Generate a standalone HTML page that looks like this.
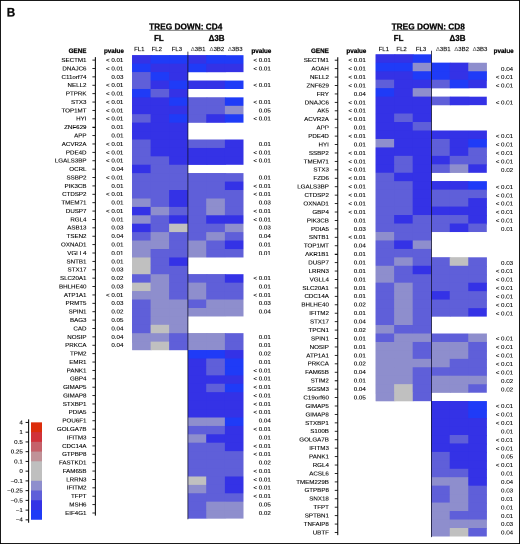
<!DOCTYPE html>
<html><head><meta charset="utf-8"><title>Treg down heatmap</title>
<style>html,body{margin:0;padding:0;background:#fff}body{width:520px;height:544px;overflow:hidden;position:relative}#wrap{position:relative;width:520px;height:544px;overflow:hidden}#fig{position:absolute;left:0;top:0;width:1040px;height:1088px;transform:scale(0.5);transform-origin:0 0;will-change:transform}svg{display:block}text{font-family:"Liberation Sans",Arial,Helvetica,sans-serif;fill:#0a0a0a;stroke:#0a0a0a;stroke-width:.14px}text.b{font-weight:bold;stroke-width:.28px}tspan.d{fill:#555;stroke:none}</style></head>
<body>
<div id="wrap">
<div id="fig">
<svg width="1040" height="1088" viewBox="0 0 520 544">
<rect width="520" height="544" fill="#fff"/>
<rect x="132.20" y="55.30" width="19.70" height="8.42" fill="#3432e6"/>
<rect x="132.20" y="55.30" width="18.50" height="9.62" fill="#3432e6"/>
<rect x="132.20" y="55.30" width="19.70" height="9.62" fill="#3432e6"/>
<rect x="150.70" y="55.30" width="19.70" height="8.42" fill="#1f3bf7"/>
<rect x="150.70" y="55.30" width="18.50" height="9.62" fill="#1f3bf7"/>
<rect x="150.70" y="55.30" width="19.70" height="9.62" fill="#1f3bf7"/>
<rect x="169.20" y="55.30" width="19.70" height="8.42" fill="#1f3bf7"/>
<rect x="169.20" y="55.30" width="18.50" height="9.62" fill="#1f3bf7"/>
<rect x="169.20" y="55.30" width="19.70" height="9.62" fill="#1f3bf7"/>
<rect x="187.70" y="55.30" width="19.80" height="8.42" fill="#3432e6"/>
<rect x="187.70" y="55.30" width="18.60" height="9.62" fill="#3432e6"/>
<rect x="187.70" y="55.30" width="19.80" height="9.62" fill="#3432e6"/>
<rect x="206.30" y="55.30" width="19.80" height="8.42" fill="#1f3bf7"/>
<rect x="206.30" y="55.30" width="18.60" height="9.62" fill="#1f3bf7"/>
<rect x="206.30" y="55.30" width="19.80" height="9.62" fill="#1f3bf7"/>
<rect x="224.90" y="55.30" width="18.60" height="9.62" fill="#1f3bf7"/>
<rect x="132.20" y="63.72" width="19.70" height="8.42" fill="#1f3bf7"/>
<rect x="132.20" y="63.72" width="18.50" height="9.62" fill="#1f3bf7"/>
<rect x="132.20" y="63.72" width="19.70" height="9.62" fill="#1f3bf7"/>
<rect x="150.70" y="63.72" width="19.70" height="8.42" fill="#3432e6"/>
<rect x="150.70" y="63.72" width="18.50" height="9.62" fill="#3432e6"/>
<rect x="150.70" y="63.72" width="19.70" height="9.62" fill="#3432e6"/>
<rect x="169.20" y="63.72" width="19.70" height="8.42" fill="#3432e6"/>
<rect x="169.20" y="63.72" width="18.50" height="9.62" fill="#3432e6"/>
<rect x="187.70" y="63.72" width="19.80" height="8.42" fill="#1f3bf7"/>
<rect x="206.30" y="63.72" width="19.80" height="8.42" fill="#3432e6"/>
<rect x="132.20" y="72.15" width="19.70" height="8.42" fill="#5f5fd9"/>
<rect x="132.20" y="72.15" width="18.50" height="9.62" fill="#5f5fd9"/>
<rect x="132.20" y="72.15" width="19.70" height="9.62" fill="#5f5fd9"/>
<rect x="150.70" y="72.15" width="19.70" height="8.42" fill="#1f3bf7"/>
<rect x="150.70" y="72.15" width="18.50" height="9.62" fill="#1f3bf7"/>
<rect x="150.70" y="72.15" width="19.70" height="9.62" fill="#1f3bf7"/>
<rect x="169.20" y="72.15" width="18.50" height="9.62" fill="#3432e6"/>
<rect x="132.20" y="80.57" width="19.70" height="8.42" fill="#5f5fd9"/>
<rect x="132.20" y="80.57" width="18.50" height="9.62" fill="#5f5fd9"/>
<rect x="132.20" y="80.57" width="19.70" height="9.62" fill="#5f5fd9"/>
<rect x="150.70" y="80.57" width="19.70" height="8.42" fill="#3432e6"/>
<rect x="150.70" y="80.57" width="18.50" height="9.62" fill="#3432e6"/>
<rect x="150.70" y="80.57" width="19.70" height="9.62" fill="#3432e6"/>
<rect x="169.20" y="80.57" width="19.70" height="8.42" fill="#1f3bf7"/>
<rect x="169.20" y="80.57" width="18.50" height="9.62" fill="#1f3bf7"/>
<rect x="187.70" y="80.57" width="19.80" height="8.42" fill="#3432e6"/>
<rect x="206.30" y="80.57" width="19.80" height="8.42" fill="#3432e6"/>
<rect x="132.20" y="88.99" width="19.70" height="8.42" fill="#1f3bf7"/>
<rect x="132.20" y="88.99" width="18.50" height="9.62" fill="#1f3bf7"/>
<rect x="132.20" y="88.99" width="19.70" height="9.62" fill="#1f3bf7"/>
<rect x="150.70" y="88.99" width="19.70" height="8.42" fill="#5f5fd9"/>
<rect x="150.70" y="88.99" width="18.50" height="9.62" fill="#5f5fd9"/>
<rect x="150.70" y="88.99" width="19.70" height="9.62" fill="#5f5fd9"/>
<rect x="169.20" y="88.99" width="18.50" height="9.62" fill="#3432e6"/>
<rect x="132.20" y="97.42" width="19.70" height="8.42" fill="#3432e6"/>
<rect x="132.20" y="97.42" width="18.50" height="9.62" fill="#3432e6"/>
<rect x="132.20" y="97.42" width="19.70" height="9.62" fill="#3432e6"/>
<rect x="150.70" y="97.42" width="19.70" height="8.42" fill="#3432e6"/>
<rect x="150.70" y="97.42" width="18.50" height="9.62" fill="#3432e6"/>
<rect x="150.70" y="97.42" width="19.70" height="9.62" fill="#3432e6"/>
<rect x="169.20" y="97.42" width="19.70" height="8.42" fill="#1f3bf7"/>
<rect x="169.20" y="97.42" width="18.50" height="9.62" fill="#1f3bf7"/>
<rect x="169.20" y="97.42" width="19.70" height="9.62" fill="#1f3bf7"/>
<rect x="187.70" y="97.42" width="19.80" height="8.42" fill="#5f5fd9"/>
<rect x="187.70" y="97.42" width="18.60" height="9.62" fill="#5f5fd9"/>
<rect x="187.70" y="97.42" width="19.80" height="9.62" fill="#5f5fd9"/>
<rect x="206.30" y="97.42" width="19.80" height="8.42" fill="#5f5fd9"/>
<rect x="206.30" y="97.42" width="18.60" height="9.62" fill="#5f5fd9"/>
<rect x="206.30" y="97.42" width="19.80" height="9.62" fill="#5f5fd9"/>
<rect x="224.90" y="97.42" width="18.60" height="9.62" fill="#1f3bf7"/>
<rect x="132.20" y="105.84" width="19.70" height="8.42" fill="#3432e6"/>
<rect x="132.20" y="105.84" width="18.50" height="9.62" fill="#3432e6"/>
<rect x="132.20" y="105.84" width="19.70" height="9.62" fill="#3432e6"/>
<rect x="150.70" y="105.84" width="19.70" height="8.42" fill="#3432e6"/>
<rect x="150.70" y="105.84" width="18.50" height="9.62" fill="#3432e6"/>
<rect x="150.70" y="105.84" width="19.70" height="9.62" fill="#3432e6"/>
<rect x="169.20" y="105.84" width="19.70" height="8.42" fill="#3432e6"/>
<rect x="169.20" y="105.84" width="18.50" height="9.62" fill="#3432e6"/>
<rect x="169.20" y="105.84" width="19.70" height="9.62" fill="#3432e6"/>
<rect x="187.70" y="105.84" width="19.80" height="8.42" fill="#5f5fd9"/>
<rect x="187.70" y="105.84" width="18.60" height="9.62" fill="#5f5fd9"/>
<rect x="187.70" y="105.84" width="19.80" height="9.62" fill="#5f5fd9"/>
<rect x="206.30" y="105.84" width="19.80" height="8.42" fill="#5f5fd9"/>
<rect x="206.30" y="105.84" width="18.60" height="9.62" fill="#5f5fd9"/>
<rect x="206.30" y="105.84" width="19.80" height="9.62" fill="#5f5fd9"/>
<rect x="224.90" y="105.84" width="18.60" height="9.62" fill="#8e8ecd"/>
<rect x="132.20" y="114.27" width="19.70" height="8.42" fill="#5f5fd9"/>
<rect x="132.20" y="114.27" width="18.50" height="9.62" fill="#5f5fd9"/>
<rect x="132.20" y="114.27" width="19.70" height="9.62" fill="#5f5fd9"/>
<rect x="150.70" y="114.27" width="19.70" height="8.42" fill="#3432e6"/>
<rect x="150.70" y="114.27" width="18.50" height="9.62" fill="#3432e6"/>
<rect x="150.70" y="114.27" width="19.70" height="9.62" fill="#3432e6"/>
<rect x="169.20" y="114.27" width="19.70" height="8.42" fill="#1f3bf7"/>
<rect x="169.20" y="114.27" width="18.50" height="9.62" fill="#1f3bf7"/>
<rect x="187.70" y="114.27" width="19.80" height="8.42" fill="#5f5fd9"/>
<rect x="206.30" y="114.27" width="19.80" height="8.42" fill="#3432e6"/>
<rect x="132.20" y="122.69" width="19.70" height="8.42" fill="#3432e6"/>
<rect x="132.20" y="122.69" width="18.50" height="9.62" fill="#3432e6"/>
<rect x="132.20" y="122.69" width="19.70" height="9.62" fill="#3432e6"/>
<rect x="150.70" y="122.69" width="19.70" height="8.42" fill="#3432e6"/>
<rect x="150.70" y="122.69" width="18.50" height="9.62" fill="#3432e6"/>
<rect x="150.70" y="122.69" width="19.70" height="9.62" fill="#3432e6"/>
<rect x="169.20" y="122.69" width="18.50" height="9.62" fill="#3432e6"/>
<rect x="132.20" y="131.11" width="19.70" height="8.42" fill="#3432e6"/>
<rect x="132.20" y="131.11" width="18.50" height="9.62" fill="#3432e6"/>
<rect x="132.20" y="131.11" width="19.70" height="9.62" fill="#3432e6"/>
<rect x="150.70" y="131.11" width="19.70" height="8.42" fill="#3432e6"/>
<rect x="150.70" y="131.11" width="18.50" height="9.62" fill="#3432e6"/>
<rect x="150.70" y="131.11" width="19.70" height="9.62" fill="#3432e6"/>
<rect x="169.20" y="131.11" width="18.50" height="9.62" fill="#3432e6"/>
<rect x="132.20" y="139.54" width="19.70" height="8.42" fill="#5f5fd9"/>
<rect x="132.20" y="139.54" width="18.50" height="9.62" fill="#5f5fd9"/>
<rect x="132.20" y="139.54" width="19.70" height="9.62" fill="#5f5fd9"/>
<rect x="150.70" y="139.54" width="19.70" height="8.42" fill="#3432e6"/>
<rect x="150.70" y="139.54" width="18.50" height="9.62" fill="#3432e6"/>
<rect x="150.70" y="139.54" width="19.70" height="9.62" fill="#3432e6"/>
<rect x="169.20" y="139.54" width="19.70" height="8.42" fill="#3432e6"/>
<rect x="169.20" y="139.54" width="18.50" height="9.62" fill="#3432e6"/>
<rect x="169.20" y="139.54" width="19.70" height="9.62" fill="#3432e6"/>
<rect x="187.70" y="139.54" width="19.80" height="8.42" fill="#5f5fd9"/>
<rect x="187.70" y="139.54" width="18.60" height="9.62" fill="#5f5fd9"/>
<rect x="187.70" y="139.54" width="19.80" height="9.62" fill="#5f5fd9"/>
<rect x="206.30" y="139.54" width="19.80" height="8.42" fill="#5f5fd9"/>
<rect x="206.30" y="139.54" width="18.60" height="9.62" fill="#5f5fd9"/>
<rect x="206.30" y="139.54" width="19.80" height="9.62" fill="#5f5fd9"/>
<rect x="224.90" y="139.54" width="18.60" height="9.62" fill="#3432e6"/>
<rect x="132.20" y="147.96" width="19.70" height="8.42" fill="#5f5fd9"/>
<rect x="132.20" y="147.96" width="18.50" height="9.62" fill="#5f5fd9"/>
<rect x="132.20" y="147.96" width="19.70" height="9.62" fill="#5f5fd9"/>
<rect x="150.70" y="147.96" width="19.70" height="8.42" fill="#3432e6"/>
<rect x="150.70" y="147.96" width="18.50" height="9.62" fill="#3432e6"/>
<rect x="150.70" y="147.96" width="19.70" height="9.62" fill="#3432e6"/>
<rect x="169.20" y="147.96" width="19.70" height="8.42" fill="#3432e6"/>
<rect x="169.20" y="147.96" width="18.50" height="9.62" fill="#3432e6"/>
<rect x="169.20" y="147.96" width="19.70" height="9.62" fill="#3432e6"/>
<rect x="187.70" y="147.96" width="19.80" height="8.42" fill="#3432e6"/>
<rect x="187.70" y="147.96" width="18.60" height="9.62" fill="#3432e6"/>
<rect x="187.70" y="147.96" width="19.80" height="9.62" fill="#3432e6"/>
<rect x="206.30" y="147.96" width="19.80" height="8.42" fill="#3432e6"/>
<rect x="206.30" y="147.96" width="18.60" height="9.62" fill="#3432e6"/>
<rect x="206.30" y="147.96" width="19.80" height="9.62" fill="#3432e6"/>
<rect x="224.90" y="147.96" width="18.60" height="9.62" fill="#3432e6"/>
<rect x="132.20" y="156.38" width="19.70" height="8.42" fill="#5f5fd9"/>
<rect x="132.20" y="156.38" width="18.50" height="9.62" fill="#5f5fd9"/>
<rect x="132.20" y="156.38" width="19.70" height="9.62" fill="#5f5fd9"/>
<rect x="150.70" y="156.38" width="19.70" height="8.42" fill="#5f5fd9"/>
<rect x="150.70" y="156.38" width="18.50" height="9.62" fill="#5f5fd9"/>
<rect x="150.70" y="156.38" width="19.70" height="9.62" fill="#5f5fd9"/>
<rect x="169.20" y="156.38" width="19.70" height="8.42" fill="#3432e6"/>
<rect x="169.20" y="156.38" width="18.50" height="9.62" fill="#3432e6"/>
<rect x="187.70" y="156.38" width="19.80" height="8.42" fill="#3432e6"/>
<rect x="206.30" y="156.38" width="19.80" height="8.42" fill="#3432e6"/>
<rect x="132.20" y="164.81" width="19.70" height="8.42" fill="#3432e6"/>
<rect x="132.20" y="164.81" width="18.50" height="9.62" fill="#3432e6"/>
<rect x="132.20" y="164.81" width="19.70" height="9.62" fill="#3432e6"/>
<rect x="150.70" y="164.81" width="19.70" height="8.42" fill="#5f5fd9"/>
<rect x="150.70" y="164.81" width="18.50" height="9.62" fill="#5f5fd9"/>
<rect x="150.70" y="164.81" width="19.70" height="9.62" fill="#5f5fd9"/>
<rect x="169.20" y="164.81" width="18.50" height="9.62" fill="#5f5fd9"/>
<rect x="132.20" y="173.23" width="19.70" height="8.42" fill="#5f5fd9"/>
<rect x="132.20" y="173.23" width="18.50" height="9.62" fill="#5f5fd9"/>
<rect x="132.20" y="173.23" width="19.70" height="9.62" fill="#5f5fd9"/>
<rect x="150.70" y="173.23" width="19.70" height="8.42" fill="#5f5fd9"/>
<rect x="150.70" y="173.23" width="18.50" height="9.62" fill="#5f5fd9"/>
<rect x="150.70" y="173.23" width="19.70" height="9.62" fill="#5f5fd9"/>
<rect x="169.20" y="173.23" width="19.70" height="8.42" fill="#5f5fd9"/>
<rect x="169.20" y="173.23" width="18.50" height="9.62" fill="#5f5fd9"/>
<rect x="169.20" y="173.23" width="19.70" height="9.62" fill="#5f5fd9"/>
<rect x="187.70" y="173.23" width="19.80" height="8.42" fill="#5f5fd9"/>
<rect x="187.70" y="173.23" width="18.60" height="9.62" fill="#5f5fd9"/>
<rect x="187.70" y="173.23" width="19.80" height="9.62" fill="#5f5fd9"/>
<rect x="206.30" y="173.23" width="19.80" height="8.42" fill="#5f5fd9"/>
<rect x="206.30" y="173.23" width="18.60" height="9.62" fill="#5f5fd9"/>
<rect x="206.30" y="173.23" width="19.80" height="9.62" fill="#5f5fd9"/>
<rect x="224.90" y="173.23" width="18.60" height="9.62" fill="#5f5fd9"/>
<rect x="132.20" y="181.65" width="19.70" height="8.42" fill="#5f5fd9"/>
<rect x="132.20" y="181.65" width="18.50" height="9.62" fill="#5f5fd9"/>
<rect x="132.20" y="181.65" width="19.70" height="9.62" fill="#5f5fd9"/>
<rect x="150.70" y="181.65" width="19.70" height="8.42" fill="#5f5fd9"/>
<rect x="150.70" y="181.65" width="18.50" height="9.62" fill="#5f5fd9"/>
<rect x="150.70" y="181.65" width="19.70" height="9.62" fill="#5f5fd9"/>
<rect x="169.20" y="181.65" width="19.70" height="8.42" fill="#5f5fd9"/>
<rect x="169.20" y="181.65" width="18.50" height="9.62" fill="#5f5fd9"/>
<rect x="169.20" y="181.65" width="19.70" height="9.62" fill="#5f5fd9"/>
<rect x="187.70" y="181.65" width="19.80" height="8.42" fill="#5f5fd9"/>
<rect x="187.70" y="181.65" width="18.60" height="9.62" fill="#5f5fd9"/>
<rect x="187.70" y="181.65" width="19.80" height="9.62" fill="#5f5fd9"/>
<rect x="206.30" y="181.65" width="19.80" height="8.42" fill="#5f5fd9"/>
<rect x="206.30" y="181.65" width="18.60" height="9.62" fill="#5f5fd9"/>
<rect x="206.30" y="181.65" width="19.80" height="9.62" fill="#5f5fd9"/>
<rect x="224.90" y="181.65" width="18.60" height="9.62" fill="#3432e6"/>
<rect x="132.20" y="190.08" width="19.70" height="8.42" fill="#5f5fd9"/>
<rect x="132.20" y="190.08" width="18.50" height="9.62" fill="#5f5fd9"/>
<rect x="132.20" y="190.08" width="19.70" height="9.62" fill="#5f5fd9"/>
<rect x="150.70" y="190.08" width="19.70" height="8.42" fill="#5f5fd9"/>
<rect x="150.70" y="190.08" width="18.50" height="9.62" fill="#5f5fd9"/>
<rect x="150.70" y="190.08" width="19.70" height="9.62" fill="#5f5fd9"/>
<rect x="169.20" y="190.08" width="19.70" height="8.42" fill="#3432e6"/>
<rect x="169.20" y="190.08" width="18.50" height="9.62" fill="#3432e6"/>
<rect x="169.20" y="190.08" width="19.70" height="9.62" fill="#3432e6"/>
<rect x="187.70" y="190.08" width="19.80" height="8.42" fill="#5f5fd9"/>
<rect x="187.70" y="190.08" width="18.60" height="9.62" fill="#5f5fd9"/>
<rect x="187.70" y="190.08" width="19.80" height="9.62" fill="#5f5fd9"/>
<rect x="206.30" y="190.08" width="19.80" height="8.42" fill="#5f5fd9"/>
<rect x="206.30" y="190.08" width="18.60" height="9.62" fill="#5f5fd9"/>
<rect x="206.30" y="190.08" width="19.80" height="9.62" fill="#5f5fd9"/>
<rect x="224.90" y="190.08" width="18.60" height="9.62" fill="#5f5fd9"/>
<rect x="132.20" y="198.50" width="19.70" height="8.42" fill="#8e8ecd"/>
<rect x="132.20" y="198.50" width="18.50" height="9.62" fill="#8e8ecd"/>
<rect x="132.20" y="198.50" width="19.70" height="9.62" fill="#8e8ecd"/>
<rect x="150.70" y="198.50" width="19.70" height="8.42" fill="#5f5fd9"/>
<rect x="150.70" y="198.50" width="18.50" height="9.62" fill="#5f5fd9"/>
<rect x="150.70" y="198.50" width="19.70" height="9.62" fill="#5f5fd9"/>
<rect x="169.20" y="198.50" width="19.70" height="8.42" fill="#3432e6"/>
<rect x="169.20" y="198.50" width="18.50" height="9.62" fill="#3432e6"/>
<rect x="169.20" y="198.50" width="19.70" height="9.62" fill="#3432e6"/>
<rect x="187.70" y="198.50" width="19.80" height="8.42" fill="#5f5fd9"/>
<rect x="187.70" y="198.50" width="18.60" height="9.62" fill="#5f5fd9"/>
<rect x="187.70" y="198.50" width="19.80" height="9.62" fill="#5f5fd9"/>
<rect x="206.30" y="198.50" width="19.80" height="8.42" fill="#8e8ecd"/>
<rect x="206.30" y="198.50" width="18.60" height="9.62" fill="#8e8ecd"/>
<rect x="206.30" y="198.50" width="19.80" height="9.62" fill="#8e8ecd"/>
<rect x="224.90" y="198.50" width="18.60" height="9.62" fill="#5f5fd9"/>
<rect x="132.20" y="206.93" width="19.70" height="8.42" fill="#3432e6"/>
<rect x="132.20" y="206.93" width="18.50" height="9.62" fill="#3432e6"/>
<rect x="132.20" y="206.93" width="19.70" height="9.62" fill="#3432e6"/>
<rect x="150.70" y="206.93" width="19.70" height="8.42" fill="#8e8ecd"/>
<rect x="150.70" y="206.93" width="18.50" height="9.62" fill="#8e8ecd"/>
<rect x="150.70" y="206.93" width="19.70" height="9.62" fill="#8e8ecd"/>
<rect x="169.20" y="206.93" width="19.70" height="8.42" fill="#5f5fd9"/>
<rect x="169.20" y="206.93" width="18.50" height="9.62" fill="#5f5fd9"/>
<rect x="169.20" y="206.93" width="19.70" height="9.62" fill="#5f5fd9"/>
<rect x="187.70" y="206.93" width="19.80" height="8.42" fill="#5f5fd9"/>
<rect x="187.70" y="206.93" width="18.60" height="9.62" fill="#5f5fd9"/>
<rect x="187.70" y="206.93" width="19.80" height="9.62" fill="#5f5fd9"/>
<rect x="206.30" y="206.93" width="19.80" height="8.42" fill="#8e8ecd"/>
<rect x="206.30" y="206.93" width="18.60" height="9.62" fill="#8e8ecd"/>
<rect x="206.30" y="206.93" width="19.80" height="9.62" fill="#8e8ecd"/>
<rect x="224.90" y="206.93" width="18.60" height="9.62" fill="#5f5fd9"/>
<rect x="132.20" y="215.35" width="19.70" height="8.42" fill="#8e8ecd"/>
<rect x="132.20" y="215.35" width="18.50" height="9.62" fill="#8e8ecd"/>
<rect x="132.20" y="215.35" width="19.70" height="9.62" fill="#8e8ecd"/>
<rect x="150.70" y="215.35" width="19.70" height="8.42" fill="#5f5fd9"/>
<rect x="150.70" y="215.35" width="18.50" height="9.62" fill="#5f5fd9"/>
<rect x="150.70" y="215.35" width="19.70" height="9.62" fill="#5f5fd9"/>
<rect x="169.20" y="215.35" width="19.70" height="8.42" fill="#3432e6"/>
<rect x="169.20" y="215.35" width="18.50" height="9.62" fill="#3432e6"/>
<rect x="169.20" y="215.35" width="19.70" height="9.62" fill="#3432e6"/>
<rect x="187.70" y="215.35" width="19.80" height="8.42" fill="#5f5fd9"/>
<rect x="187.70" y="215.35" width="18.60" height="9.62" fill="#5f5fd9"/>
<rect x="187.70" y="215.35" width="19.80" height="9.62" fill="#5f5fd9"/>
<rect x="206.30" y="215.35" width="19.80" height="8.42" fill="#3432e6"/>
<rect x="206.30" y="215.35" width="18.60" height="9.62" fill="#3432e6"/>
<rect x="206.30" y="215.35" width="19.80" height="9.62" fill="#3432e6"/>
<rect x="224.90" y="215.35" width="18.60" height="9.62" fill="#3432e6"/>
<rect x="132.20" y="223.77" width="19.70" height="8.42" fill="#3432e6"/>
<rect x="132.20" y="223.77" width="18.50" height="9.62" fill="#3432e6"/>
<rect x="132.20" y="223.77" width="19.70" height="9.62" fill="#3432e6"/>
<rect x="150.70" y="223.77" width="19.70" height="8.42" fill="#5f5fd9"/>
<rect x="150.70" y="223.77" width="18.50" height="9.62" fill="#5f5fd9"/>
<rect x="150.70" y="223.77" width="19.70" height="9.62" fill="#5f5fd9"/>
<rect x="169.20" y="223.77" width="19.70" height="8.42" fill="#c0c0c0"/>
<rect x="169.20" y="223.77" width="18.50" height="9.62" fill="#c0c0c0"/>
<rect x="169.20" y="223.77" width="19.70" height="9.62" fill="#c0c0c0"/>
<rect x="187.70" y="223.77" width="19.80" height="8.42" fill="#5f5fd9"/>
<rect x="187.70" y="223.77" width="18.60" height="9.62" fill="#5f5fd9"/>
<rect x="187.70" y="223.77" width="19.80" height="9.62" fill="#5f5fd9"/>
<rect x="206.30" y="223.77" width="19.80" height="8.42" fill="#5f5fd9"/>
<rect x="206.30" y="223.77" width="18.60" height="9.62" fill="#5f5fd9"/>
<rect x="206.30" y="223.77" width="19.80" height="9.62" fill="#5f5fd9"/>
<rect x="224.90" y="223.77" width="18.60" height="9.62" fill="#8e8ecd"/>
<rect x="132.20" y="232.20" width="19.70" height="8.42" fill="#5f5fd9"/>
<rect x="132.20" y="232.20" width="18.50" height="9.62" fill="#5f5fd9"/>
<rect x="132.20" y="232.20" width="19.70" height="9.62" fill="#5f5fd9"/>
<rect x="150.70" y="232.20" width="19.70" height="8.42" fill="#8e8ecd"/>
<rect x="150.70" y="232.20" width="18.50" height="9.62" fill="#8e8ecd"/>
<rect x="150.70" y="232.20" width="19.70" height="9.62" fill="#8e8ecd"/>
<rect x="169.20" y="232.20" width="19.70" height="8.42" fill="#5f5fd9"/>
<rect x="169.20" y="232.20" width="18.50" height="9.62" fill="#5f5fd9"/>
<rect x="169.20" y="232.20" width="19.70" height="9.62" fill="#5f5fd9"/>
<rect x="187.70" y="232.20" width="19.80" height="8.42" fill="#5f5fd9"/>
<rect x="187.70" y="232.20" width="18.60" height="9.62" fill="#5f5fd9"/>
<rect x="187.70" y="232.20" width="19.80" height="9.62" fill="#5f5fd9"/>
<rect x="206.30" y="232.20" width="19.80" height="8.42" fill="#8e8ecd"/>
<rect x="206.30" y="232.20" width="18.60" height="9.62" fill="#8e8ecd"/>
<rect x="206.30" y="232.20" width="19.80" height="9.62" fill="#8e8ecd"/>
<rect x="224.90" y="232.20" width="18.60" height="9.62" fill="#5f5fd9"/>
<rect x="132.20" y="240.62" width="19.70" height="8.42" fill="#8e8ecd"/>
<rect x="132.20" y="240.62" width="18.50" height="9.62" fill="#8e8ecd"/>
<rect x="132.20" y="240.62" width="19.70" height="9.62" fill="#8e8ecd"/>
<rect x="150.70" y="240.62" width="19.70" height="8.42" fill="#8e8ecd"/>
<rect x="150.70" y="240.62" width="18.50" height="9.62" fill="#8e8ecd"/>
<rect x="150.70" y="240.62" width="19.70" height="9.62" fill="#8e8ecd"/>
<rect x="169.20" y="240.62" width="19.70" height="8.42" fill="#5f5fd9"/>
<rect x="169.20" y="240.62" width="18.50" height="9.62" fill="#5f5fd9"/>
<rect x="169.20" y="240.62" width="19.70" height="9.62" fill="#5f5fd9"/>
<rect x="187.70" y="240.62" width="19.80" height="8.42" fill="#8e8ecd"/>
<rect x="187.70" y="240.62" width="18.60" height="9.62" fill="#8e8ecd"/>
<rect x="187.70" y="240.62" width="19.80" height="9.62" fill="#8e8ecd"/>
<rect x="206.30" y="240.62" width="19.80" height="8.42" fill="#5f5fd9"/>
<rect x="206.30" y="240.62" width="18.60" height="9.62" fill="#5f5fd9"/>
<rect x="206.30" y="240.62" width="19.80" height="9.62" fill="#5f5fd9"/>
<rect x="224.90" y="240.62" width="18.60" height="9.62" fill="#3432e6"/>
<rect x="132.20" y="249.04" width="19.70" height="8.42" fill="#8e8ecd"/>
<rect x="132.20" y="249.04" width="18.50" height="9.62" fill="#8e8ecd"/>
<rect x="132.20" y="249.04" width="19.70" height="9.62" fill="#8e8ecd"/>
<rect x="150.70" y="249.04" width="19.70" height="8.42" fill="#5f5fd9"/>
<rect x="150.70" y="249.04" width="18.50" height="9.62" fill="#5f5fd9"/>
<rect x="150.70" y="249.04" width="19.70" height="9.62" fill="#5f5fd9"/>
<rect x="169.20" y="249.04" width="19.70" height="8.42" fill="#5f5fd9"/>
<rect x="169.20" y="249.04" width="18.50" height="9.62" fill="#5f5fd9"/>
<rect x="187.70" y="249.04" width="19.80" height="8.42" fill="#8e8ecd"/>
<rect x="206.30" y="249.04" width="19.80" height="8.42" fill="#5f5fd9"/>
<rect x="132.20" y="257.47" width="19.70" height="8.42" fill="#c0c0c0"/>
<rect x="132.20" y="257.47" width="18.50" height="9.62" fill="#c0c0c0"/>
<rect x="132.20" y="257.47" width="19.70" height="9.62" fill="#c0c0c0"/>
<rect x="150.70" y="257.47" width="19.70" height="8.42" fill="#5f5fd9"/>
<rect x="150.70" y="257.47" width="18.50" height="9.62" fill="#5f5fd9"/>
<rect x="150.70" y="257.47" width="19.70" height="9.62" fill="#5f5fd9"/>
<rect x="169.20" y="257.47" width="18.50" height="9.62" fill="#3432e6"/>
<rect x="132.20" y="265.89" width="19.70" height="8.42" fill="#c0c0c0"/>
<rect x="132.20" y="265.89" width="18.50" height="9.62" fill="#c0c0c0"/>
<rect x="132.20" y="265.89" width="19.70" height="9.62" fill="#c0c0c0"/>
<rect x="150.70" y="265.89" width="19.70" height="8.42" fill="#5f5fd9"/>
<rect x="150.70" y="265.89" width="18.50" height="9.62" fill="#5f5fd9"/>
<rect x="150.70" y="265.89" width="19.70" height="9.62" fill="#5f5fd9"/>
<rect x="169.20" y="265.89" width="18.50" height="9.62" fill="#5f5fd9"/>
<rect x="132.20" y="274.31" width="19.70" height="8.42" fill="#5f5fd9"/>
<rect x="132.20" y="274.31" width="18.50" height="9.62" fill="#5f5fd9"/>
<rect x="132.20" y="274.31" width="19.70" height="9.62" fill="#5f5fd9"/>
<rect x="150.70" y="274.31" width="19.70" height="8.42" fill="#8e8ecd"/>
<rect x="150.70" y="274.31" width="18.50" height="9.62" fill="#8e8ecd"/>
<rect x="150.70" y="274.31" width="19.70" height="9.62" fill="#8e8ecd"/>
<rect x="169.20" y="274.31" width="19.70" height="8.42" fill="#5f5fd9"/>
<rect x="169.20" y="274.31" width="18.50" height="9.62" fill="#5f5fd9"/>
<rect x="169.20" y="274.31" width="19.70" height="9.62" fill="#5f5fd9"/>
<rect x="187.70" y="274.31" width="19.80" height="8.42" fill="#5f5fd9"/>
<rect x="187.70" y="274.31" width="18.60" height="9.62" fill="#5f5fd9"/>
<rect x="187.70" y="274.31" width="19.80" height="9.62" fill="#5f5fd9"/>
<rect x="206.30" y="274.31" width="19.80" height="8.42" fill="#5f5fd9"/>
<rect x="206.30" y="274.31" width="18.60" height="9.62" fill="#5f5fd9"/>
<rect x="206.30" y="274.31" width="19.80" height="9.62" fill="#5f5fd9"/>
<rect x="224.90" y="274.31" width="18.60" height="9.62" fill="#3432e6"/>
<rect x="132.20" y="282.74" width="19.70" height="8.42" fill="#c0c0c0"/>
<rect x="132.20" y="282.74" width="18.50" height="9.62" fill="#c0c0c0"/>
<rect x="132.20" y="282.74" width="19.70" height="9.62" fill="#c0c0c0"/>
<rect x="150.70" y="282.74" width="19.70" height="8.42" fill="#8e8ecd"/>
<rect x="150.70" y="282.74" width="18.50" height="9.62" fill="#8e8ecd"/>
<rect x="150.70" y="282.74" width="19.70" height="9.62" fill="#8e8ecd"/>
<rect x="169.20" y="282.74" width="19.70" height="8.42" fill="#5f5fd9"/>
<rect x="169.20" y="282.74" width="18.50" height="9.62" fill="#5f5fd9"/>
<rect x="169.20" y="282.74" width="19.70" height="9.62" fill="#5f5fd9"/>
<rect x="187.70" y="282.74" width="19.80" height="8.42" fill="#8e8ecd"/>
<rect x="187.70" y="282.74" width="18.60" height="9.62" fill="#8e8ecd"/>
<rect x="187.70" y="282.74" width="19.80" height="9.62" fill="#8e8ecd"/>
<rect x="206.30" y="282.74" width="19.80" height="8.42" fill="#5f5fd9"/>
<rect x="206.30" y="282.74" width="18.60" height="9.62" fill="#5f5fd9"/>
<rect x="206.30" y="282.74" width="19.80" height="9.62" fill="#5f5fd9"/>
<rect x="224.90" y="282.74" width="18.60" height="9.62" fill="#5f5fd9"/>
<rect x="132.20" y="291.16" width="19.70" height="8.42" fill="#8e8ecd"/>
<rect x="132.20" y="291.16" width="18.50" height="9.62" fill="#8e8ecd"/>
<rect x="132.20" y="291.16" width="19.70" height="9.62" fill="#8e8ecd"/>
<rect x="150.70" y="291.16" width="19.70" height="8.42" fill="#8e8ecd"/>
<rect x="150.70" y="291.16" width="18.50" height="9.62" fill="#8e8ecd"/>
<rect x="150.70" y="291.16" width="19.70" height="9.62" fill="#8e8ecd"/>
<rect x="169.20" y="291.16" width="19.70" height="8.42" fill="#5f5fd9"/>
<rect x="169.20" y="291.16" width="18.50" height="9.62" fill="#5f5fd9"/>
<rect x="169.20" y="291.16" width="19.70" height="9.62" fill="#5f5fd9"/>
<rect x="187.70" y="291.16" width="19.80" height="8.42" fill="#8e8ecd"/>
<rect x="187.70" y="291.16" width="18.60" height="9.62" fill="#8e8ecd"/>
<rect x="187.70" y="291.16" width="19.80" height="9.62" fill="#8e8ecd"/>
<rect x="206.30" y="291.16" width="19.80" height="8.42" fill="#5f5fd9"/>
<rect x="206.30" y="291.16" width="18.60" height="9.62" fill="#5f5fd9"/>
<rect x="206.30" y="291.16" width="19.80" height="9.62" fill="#5f5fd9"/>
<rect x="224.90" y="291.16" width="18.60" height="9.62" fill="#5f5fd9"/>
<rect x="132.20" y="299.59" width="19.70" height="8.42" fill="#5f5fd9"/>
<rect x="132.20" y="299.59" width="18.50" height="9.62" fill="#5f5fd9"/>
<rect x="132.20" y="299.59" width="19.70" height="9.62" fill="#5f5fd9"/>
<rect x="150.70" y="299.59" width="19.70" height="8.42" fill="#8e8ecd"/>
<rect x="150.70" y="299.59" width="18.50" height="9.62" fill="#8e8ecd"/>
<rect x="150.70" y="299.59" width="19.70" height="9.62" fill="#8e8ecd"/>
<rect x="169.20" y="299.59" width="19.70" height="8.42" fill="#8e8ecd"/>
<rect x="169.20" y="299.59" width="18.50" height="9.62" fill="#8e8ecd"/>
<rect x="169.20" y="299.59" width="19.70" height="9.62" fill="#8e8ecd"/>
<rect x="187.70" y="299.59" width="19.80" height="8.42" fill="#5f5fd9"/>
<rect x="187.70" y="299.59" width="18.60" height="9.62" fill="#5f5fd9"/>
<rect x="187.70" y="299.59" width="19.80" height="9.62" fill="#5f5fd9"/>
<rect x="206.30" y="299.59" width="19.80" height="8.42" fill="#8e8ecd"/>
<rect x="206.30" y="299.59" width="18.60" height="9.62" fill="#8e8ecd"/>
<rect x="206.30" y="299.59" width="19.80" height="9.62" fill="#8e8ecd"/>
<rect x="224.90" y="299.59" width="18.60" height="9.62" fill="#8e8ecd"/>
<rect x="132.20" y="308.01" width="19.70" height="8.42" fill="#5f5fd9"/>
<rect x="132.20" y="308.01" width="18.50" height="9.62" fill="#5f5fd9"/>
<rect x="132.20" y="308.01" width="19.70" height="9.62" fill="#5f5fd9"/>
<rect x="150.70" y="308.01" width="19.70" height="8.42" fill="#8e8ecd"/>
<rect x="150.70" y="308.01" width="18.50" height="9.62" fill="#8e8ecd"/>
<rect x="150.70" y="308.01" width="19.70" height="9.62" fill="#8e8ecd"/>
<rect x="169.20" y="308.01" width="19.70" height="8.42" fill="#8e8ecd"/>
<rect x="169.20" y="308.01" width="18.50" height="9.62" fill="#8e8ecd"/>
<rect x="187.70" y="308.01" width="19.80" height="8.42" fill="#8e8ecd"/>
<rect x="206.30" y="308.01" width="19.80" height="8.42" fill="#8e8ecd"/>
<rect x="132.20" y="316.43" width="19.70" height="8.42" fill="#5f5fd9"/>
<rect x="132.20" y="316.43" width="18.50" height="9.62" fill="#5f5fd9"/>
<rect x="132.20" y="316.43" width="19.70" height="9.62" fill="#5f5fd9"/>
<rect x="150.70" y="316.43" width="19.70" height="8.42" fill="#8e8ecd"/>
<rect x="150.70" y="316.43" width="18.50" height="9.62" fill="#8e8ecd"/>
<rect x="150.70" y="316.43" width="19.70" height="9.62" fill="#8e8ecd"/>
<rect x="169.20" y="316.43" width="18.50" height="9.62" fill="#8e8ecd"/>
<rect x="132.20" y="324.86" width="19.70" height="8.42" fill="#5f5fd9"/>
<rect x="132.20" y="324.86" width="18.50" height="9.62" fill="#5f5fd9"/>
<rect x="132.20" y="324.86" width="19.70" height="9.62" fill="#5f5fd9"/>
<rect x="150.70" y="324.86" width="19.70" height="8.42" fill="#c0c0c0"/>
<rect x="150.70" y="324.86" width="18.50" height="9.62" fill="#c0c0c0"/>
<rect x="150.70" y="324.86" width="19.70" height="9.62" fill="#c0c0c0"/>
<rect x="169.20" y="324.86" width="18.50" height="9.62" fill="#8e8ecd"/>
<rect x="132.20" y="333.28" width="19.70" height="8.42" fill="#8e8ecd"/>
<rect x="132.20" y="333.28" width="18.50" height="9.62" fill="#8e8ecd"/>
<rect x="132.20" y="333.28" width="19.70" height="9.62" fill="#8e8ecd"/>
<rect x="150.70" y="333.28" width="19.70" height="8.42" fill="#8e8ecd"/>
<rect x="150.70" y="333.28" width="18.50" height="9.62" fill="#8e8ecd"/>
<rect x="150.70" y="333.28" width="19.70" height="9.62" fill="#8e8ecd"/>
<rect x="169.20" y="333.28" width="19.70" height="8.42" fill="#5f5fd9"/>
<rect x="169.20" y="333.28" width="18.50" height="9.62" fill="#5f5fd9"/>
<rect x="169.20" y="333.28" width="19.70" height="9.62" fill="#5f5fd9"/>
<rect x="187.70" y="333.28" width="19.80" height="8.42" fill="#8e8ecd"/>
<rect x="187.70" y="333.28" width="18.60" height="9.62" fill="#8e8ecd"/>
<rect x="187.70" y="333.28" width="19.80" height="9.62" fill="#8e8ecd"/>
<rect x="206.30" y="333.28" width="19.80" height="8.42" fill="#8e8ecd"/>
<rect x="206.30" y="333.28" width="18.60" height="9.62" fill="#8e8ecd"/>
<rect x="206.30" y="333.28" width="19.80" height="9.62" fill="#8e8ecd"/>
<rect x="224.90" y="333.28" width="18.60" height="9.62" fill="#5f5fd9"/>
<rect x="132.20" y="341.70" width="19.70" height="8.42" fill="#8e8ecd"/>
<rect x="150.70" y="341.70" width="19.70" height="8.42" fill="#c0c0c0"/>
<rect x="169.20" y="341.70" width="19.70" height="8.42" fill="#5f5fd9"/>
<rect x="187.70" y="341.70" width="19.80" height="8.42" fill="#8e8ecd"/>
<rect x="187.70" y="341.70" width="18.60" height="9.62" fill="#8e8ecd"/>
<rect x="187.70" y="341.70" width="19.80" height="9.62" fill="#8e8ecd"/>
<rect x="206.30" y="341.70" width="19.80" height="8.42" fill="#8e8ecd"/>
<rect x="206.30" y="341.70" width="18.60" height="9.62" fill="#8e8ecd"/>
<rect x="206.30" y="341.70" width="19.80" height="9.62" fill="#8e8ecd"/>
<rect x="224.90" y="341.70" width="18.60" height="9.62" fill="#5f5fd9"/>
<rect x="187.70" y="350.13" width="19.80" height="8.42" fill="#1f3bf7"/>
<rect x="187.70" y="350.13" width="18.60" height="9.62" fill="#1f3bf7"/>
<rect x="187.70" y="350.13" width="19.80" height="9.62" fill="#1f3bf7"/>
<rect x="206.30" y="350.13" width="19.80" height="8.42" fill="#1f3bf7"/>
<rect x="206.30" y="350.13" width="18.60" height="9.62" fill="#1f3bf7"/>
<rect x="206.30" y="350.13" width="19.80" height="9.62" fill="#1f3bf7"/>
<rect x="224.90" y="350.13" width="18.60" height="9.62" fill="#3432e6"/>
<rect x="187.70" y="358.55" width="19.80" height="8.42" fill="#3432e6"/>
<rect x="187.70" y="358.55" width="18.60" height="9.62" fill="#3432e6"/>
<rect x="187.70" y="358.55" width="19.80" height="9.62" fill="#3432e6"/>
<rect x="206.30" y="358.55" width="19.80" height="8.42" fill="#5f5fd9"/>
<rect x="206.30" y="358.55" width="18.60" height="9.62" fill="#5f5fd9"/>
<rect x="206.30" y="358.55" width="19.80" height="9.62" fill="#5f5fd9"/>
<rect x="224.90" y="358.55" width="18.60" height="9.62" fill="#1f3bf7"/>
<rect x="187.70" y="366.97" width="19.80" height="8.42" fill="#3432e6"/>
<rect x="187.70" y="366.97" width="18.60" height="9.62" fill="#3432e6"/>
<rect x="187.70" y="366.97" width="19.80" height="9.62" fill="#3432e6"/>
<rect x="206.30" y="366.97" width="19.80" height="8.42" fill="#5f5fd9"/>
<rect x="206.30" y="366.97" width="18.60" height="9.62" fill="#5f5fd9"/>
<rect x="206.30" y="366.97" width="19.80" height="9.62" fill="#5f5fd9"/>
<rect x="224.90" y="366.97" width="18.60" height="9.62" fill="#1f3bf7"/>
<rect x="187.70" y="375.40" width="19.80" height="8.42" fill="#3432e6"/>
<rect x="187.70" y="375.40" width="18.60" height="9.62" fill="#3432e6"/>
<rect x="187.70" y="375.40" width="19.80" height="9.62" fill="#3432e6"/>
<rect x="206.30" y="375.40" width="19.80" height="8.42" fill="#3432e6"/>
<rect x="206.30" y="375.40" width="18.60" height="9.62" fill="#3432e6"/>
<rect x="206.30" y="375.40" width="19.80" height="9.62" fill="#3432e6"/>
<rect x="224.90" y="375.40" width="18.60" height="9.62" fill="#3432e6"/>
<rect x="187.70" y="383.82" width="19.80" height="8.42" fill="#3432e6"/>
<rect x="187.70" y="383.82" width="18.60" height="9.62" fill="#3432e6"/>
<rect x="187.70" y="383.82" width="19.80" height="9.62" fill="#3432e6"/>
<rect x="206.30" y="383.82" width="19.80" height="8.42" fill="#5f5fd9"/>
<rect x="206.30" y="383.82" width="18.60" height="9.62" fill="#5f5fd9"/>
<rect x="206.30" y="383.82" width="19.80" height="9.62" fill="#5f5fd9"/>
<rect x="224.90" y="383.82" width="18.60" height="9.62" fill="#1f3bf7"/>
<rect x="187.70" y="392.25" width="19.80" height="8.42" fill="#3432e6"/>
<rect x="187.70" y="392.25" width="18.60" height="9.62" fill="#3432e6"/>
<rect x="187.70" y="392.25" width="19.80" height="9.62" fill="#3432e6"/>
<rect x="206.30" y="392.25" width="19.80" height="8.42" fill="#3432e6"/>
<rect x="206.30" y="392.25" width="18.60" height="9.62" fill="#3432e6"/>
<rect x="206.30" y="392.25" width="19.80" height="9.62" fill="#3432e6"/>
<rect x="224.90" y="392.25" width="18.60" height="9.62" fill="#3432e6"/>
<rect x="187.70" y="400.67" width="19.80" height="8.42" fill="#3432e6"/>
<rect x="187.70" y="400.67" width="18.60" height="9.62" fill="#3432e6"/>
<rect x="187.70" y="400.67" width="19.80" height="9.62" fill="#3432e6"/>
<rect x="206.30" y="400.67" width="19.80" height="8.42" fill="#3432e6"/>
<rect x="206.30" y="400.67" width="18.60" height="9.62" fill="#3432e6"/>
<rect x="206.30" y="400.67" width="19.80" height="9.62" fill="#3432e6"/>
<rect x="224.90" y="400.67" width="18.60" height="9.62" fill="#3432e6"/>
<rect x="187.70" y="409.09" width="19.80" height="8.42" fill="#3432e6"/>
<rect x="187.70" y="409.09" width="18.60" height="9.62" fill="#3432e6"/>
<rect x="187.70" y="409.09" width="19.80" height="9.62" fill="#3432e6"/>
<rect x="206.30" y="409.09" width="19.80" height="8.42" fill="#3432e6"/>
<rect x="206.30" y="409.09" width="18.60" height="9.62" fill="#3432e6"/>
<rect x="206.30" y="409.09" width="19.80" height="9.62" fill="#3432e6"/>
<rect x="224.90" y="409.09" width="18.60" height="9.62" fill="#3432e6"/>
<rect x="187.70" y="417.52" width="19.80" height="8.42" fill="#8e8ecd"/>
<rect x="187.70" y="417.52" width="18.60" height="9.62" fill="#8e8ecd"/>
<rect x="187.70" y="417.52" width="19.80" height="9.62" fill="#8e8ecd"/>
<rect x="206.30" y="417.52" width="19.80" height="8.42" fill="#8e8ecd"/>
<rect x="206.30" y="417.52" width="18.60" height="9.62" fill="#8e8ecd"/>
<rect x="206.30" y="417.52" width="19.80" height="9.62" fill="#8e8ecd"/>
<rect x="224.90" y="417.52" width="18.60" height="9.62" fill="#1f3bf7"/>
<rect x="187.70" y="425.94" width="19.80" height="8.42" fill="#5f5fd9"/>
<rect x="187.70" y="425.94" width="18.60" height="9.62" fill="#5f5fd9"/>
<rect x="187.70" y="425.94" width="19.80" height="9.62" fill="#5f5fd9"/>
<rect x="206.30" y="425.94" width="19.80" height="8.42" fill="#5f5fd9"/>
<rect x="206.30" y="425.94" width="18.60" height="9.62" fill="#5f5fd9"/>
<rect x="206.30" y="425.94" width="19.80" height="9.62" fill="#5f5fd9"/>
<rect x="224.90" y="425.94" width="18.60" height="9.62" fill="#3432e6"/>
<rect x="187.70" y="434.36" width="19.80" height="8.42" fill="#8e8ecd"/>
<rect x="187.70" y="434.36" width="18.60" height="9.62" fill="#8e8ecd"/>
<rect x="187.70" y="434.36" width="19.80" height="9.62" fill="#8e8ecd"/>
<rect x="206.30" y="434.36" width="19.80" height="8.42" fill="#3432e6"/>
<rect x="206.30" y="434.36" width="18.60" height="9.62" fill="#3432e6"/>
<rect x="206.30" y="434.36" width="19.80" height="9.62" fill="#3432e6"/>
<rect x="224.90" y="434.36" width="18.60" height="9.62" fill="#3432e6"/>
<rect x="187.70" y="442.79" width="19.80" height="8.42" fill="#5f5fd9"/>
<rect x="187.70" y="442.79" width="18.60" height="9.62" fill="#5f5fd9"/>
<rect x="187.70" y="442.79" width="19.80" height="9.62" fill="#5f5fd9"/>
<rect x="206.30" y="442.79" width="19.80" height="8.42" fill="#5f5fd9"/>
<rect x="206.30" y="442.79" width="18.60" height="9.62" fill="#5f5fd9"/>
<rect x="206.30" y="442.79" width="19.80" height="9.62" fill="#5f5fd9"/>
<rect x="224.90" y="442.79" width="18.60" height="9.62" fill="#3432e6"/>
<rect x="187.70" y="451.21" width="19.80" height="8.42" fill="#5f5fd9"/>
<rect x="187.70" y="451.21" width="18.60" height="9.62" fill="#5f5fd9"/>
<rect x="187.70" y="451.21" width="19.80" height="9.62" fill="#5f5fd9"/>
<rect x="206.30" y="451.21" width="19.80" height="8.42" fill="#5f5fd9"/>
<rect x="206.30" y="451.21" width="18.60" height="9.62" fill="#5f5fd9"/>
<rect x="206.30" y="451.21" width="19.80" height="9.62" fill="#5f5fd9"/>
<rect x="224.90" y="451.21" width="18.60" height="9.62" fill="#5f5fd9"/>
<rect x="187.70" y="459.63" width="19.80" height="8.42" fill="#5f5fd9"/>
<rect x="187.70" y="459.63" width="18.60" height="9.62" fill="#5f5fd9"/>
<rect x="187.70" y="459.63" width="19.80" height="9.62" fill="#5f5fd9"/>
<rect x="206.30" y="459.63" width="19.80" height="8.42" fill="#5f5fd9"/>
<rect x="206.30" y="459.63" width="18.60" height="9.62" fill="#5f5fd9"/>
<rect x="206.30" y="459.63" width="19.80" height="9.62" fill="#5f5fd9"/>
<rect x="224.90" y="459.63" width="18.60" height="9.62" fill="#5f5fd9"/>
<rect x="187.70" y="468.06" width="19.80" height="8.42" fill="#5f5fd9"/>
<rect x="187.70" y="468.06" width="18.60" height="9.62" fill="#5f5fd9"/>
<rect x="187.70" y="468.06" width="19.80" height="9.62" fill="#5f5fd9"/>
<rect x="206.30" y="468.06" width="19.80" height="8.42" fill="#5f5fd9"/>
<rect x="206.30" y="468.06" width="18.60" height="9.62" fill="#5f5fd9"/>
<rect x="206.30" y="468.06" width="19.80" height="9.62" fill="#5f5fd9"/>
<rect x="224.90" y="468.06" width="18.60" height="9.62" fill="#5f5fd9"/>
<rect x="187.70" y="476.48" width="19.80" height="8.42" fill="#c0c0c0"/>
<rect x="187.70" y="476.48" width="18.60" height="9.62" fill="#c0c0c0"/>
<rect x="187.70" y="476.48" width="19.80" height="9.62" fill="#c0c0c0"/>
<rect x="206.30" y="476.48" width="19.80" height="8.42" fill="#5f5fd9"/>
<rect x="206.30" y="476.48" width="18.60" height="9.62" fill="#5f5fd9"/>
<rect x="206.30" y="476.48" width="19.80" height="9.62" fill="#5f5fd9"/>
<rect x="224.90" y="476.48" width="18.60" height="9.62" fill="#3432e6"/>
<rect x="187.70" y="484.91" width="19.80" height="8.42" fill="#8e8ecd"/>
<rect x="187.70" y="484.91" width="18.60" height="9.62" fill="#8e8ecd"/>
<rect x="187.70" y="484.91" width="19.80" height="9.62" fill="#8e8ecd"/>
<rect x="206.30" y="484.91" width="19.80" height="8.42" fill="#5f5fd9"/>
<rect x="206.30" y="484.91" width="18.60" height="9.62" fill="#5f5fd9"/>
<rect x="206.30" y="484.91" width="19.80" height="9.62" fill="#5f5fd9"/>
<rect x="224.90" y="484.91" width="18.60" height="9.62" fill="#3432e6"/>
<rect x="187.70" y="493.33" width="19.80" height="8.42" fill="#5f5fd9"/>
<rect x="187.70" y="493.33" width="18.60" height="9.62" fill="#5f5fd9"/>
<rect x="187.70" y="493.33" width="19.80" height="9.62" fill="#5f5fd9"/>
<rect x="206.30" y="493.33" width="19.80" height="8.42" fill="#5f5fd9"/>
<rect x="206.30" y="493.33" width="18.60" height="9.62" fill="#5f5fd9"/>
<rect x="206.30" y="493.33" width="19.80" height="9.62" fill="#5f5fd9"/>
<rect x="224.90" y="493.33" width="18.60" height="9.62" fill="#5f5fd9"/>
<rect x="187.70" y="501.75" width="19.80" height="8.42" fill="#5f5fd9"/>
<rect x="187.70" y="501.75" width="18.60" height="9.62" fill="#5f5fd9"/>
<rect x="187.70" y="501.75" width="19.80" height="9.62" fill="#5f5fd9"/>
<rect x="206.30" y="501.75" width="19.80" height="8.42" fill="#8e8ecd"/>
<rect x="206.30" y="501.75" width="18.60" height="9.62" fill="#8e8ecd"/>
<rect x="206.30" y="501.75" width="19.80" height="9.62" fill="#8e8ecd"/>
<rect x="224.90" y="501.75" width="18.60" height="9.62" fill="#8e8ecd"/>
<rect x="187.70" y="510.18" width="19.80" height="8.42" fill="#5f5fd9"/>
<rect x="206.30" y="510.18" width="19.80" height="8.42" fill="#8e8ecd"/>
<rect x="132.20" y="55.30" width="18.50" height="8.42" fill="#3432e6"/>
<rect x="150.70" y="55.30" width="18.50" height="8.42" fill="#1f3bf7"/>
<rect x="169.20" y="55.30" width="18.50" height="8.42" fill="#1f3bf7"/>
<rect x="187.70" y="55.30" width="18.60" height="8.42" fill="#3432e6"/>
<rect x="206.30" y="55.30" width="18.60" height="8.42" fill="#1f3bf7"/>
<rect x="224.90" y="55.30" width="18.60" height="8.42" fill="#1f3bf7"/>
<rect x="132.20" y="63.72" width="18.50" height="8.42" fill="#1f3bf7"/>
<rect x="150.70" y="63.72" width="18.50" height="8.42" fill="#3432e6"/>
<rect x="169.20" y="63.72" width="18.50" height="8.42" fill="#3432e6"/>
<rect x="187.70" y="63.72" width="18.60" height="8.42" fill="#1f3bf7"/>
<rect x="206.30" y="63.72" width="18.60" height="8.42" fill="#3432e6"/>
<rect x="224.90" y="63.72" width="18.60" height="8.42" fill="#3432e6"/>
<rect x="132.20" y="72.15" width="18.50" height="8.42" fill="#5f5fd9"/>
<rect x="150.70" y="72.15" width="18.50" height="8.42" fill="#1f3bf7"/>
<rect x="169.20" y="72.15" width="18.50" height="8.42" fill="#3432e6"/>
<rect x="132.20" y="80.57" width="18.50" height="8.42" fill="#5f5fd9"/>
<rect x="150.70" y="80.57" width="18.50" height="8.42" fill="#3432e6"/>
<rect x="169.20" y="80.57" width="18.50" height="8.42" fill="#1f3bf7"/>
<rect x="187.70" y="80.57" width="18.60" height="8.42" fill="#3432e6"/>
<rect x="206.30" y="80.57" width="18.60" height="8.42" fill="#3432e6"/>
<rect x="224.90" y="80.57" width="18.60" height="8.42" fill="#1f3bf7"/>
<rect x="132.20" y="88.99" width="18.50" height="8.42" fill="#1f3bf7"/>
<rect x="150.70" y="88.99" width="18.50" height="8.42" fill="#5f5fd9"/>
<rect x="169.20" y="88.99" width="18.50" height="8.42" fill="#3432e6"/>
<rect x="132.20" y="97.42" width="18.50" height="8.42" fill="#3432e6"/>
<rect x="150.70" y="97.42" width="18.50" height="8.42" fill="#3432e6"/>
<rect x="169.20" y="97.42" width="18.50" height="8.42" fill="#1f3bf7"/>
<rect x="187.70" y="97.42" width="18.60" height="8.42" fill="#5f5fd9"/>
<rect x="206.30" y="97.42" width="18.60" height="8.42" fill="#5f5fd9"/>
<rect x="224.90" y="97.42" width="18.60" height="8.42" fill="#1f3bf7"/>
<rect x="132.20" y="105.84" width="18.50" height="8.42" fill="#3432e6"/>
<rect x="150.70" y="105.84" width="18.50" height="8.42" fill="#3432e6"/>
<rect x="169.20" y="105.84" width="18.50" height="8.42" fill="#3432e6"/>
<rect x="187.70" y="105.84" width="18.60" height="8.42" fill="#5f5fd9"/>
<rect x="206.30" y="105.84" width="18.60" height="8.42" fill="#5f5fd9"/>
<rect x="224.90" y="105.84" width="18.60" height="8.42" fill="#8e8ecd"/>
<rect x="132.20" y="114.27" width="18.50" height="8.42" fill="#5f5fd9"/>
<rect x="150.70" y="114.27" width="18.50" height="8.42" fill="#3432e6"/>
<rect x="169.20" y="114.27" width="18.50" height="8.42" fill="#1f3bf7"/>
<rect x="187.70" y="114.27" width="18.60" height="8.42" fill="#5f5fd9"/>
<rect x="206.30" y="114.27" width="18.60" height="8.42" fill="#3432e6"/>
<rect x="224.90" y="114.27" width="18.60" height="8.42" fill="#1f3bf7"/>
<rect x="132.20" y="122.69" width="18.50" height="8.42" fill="#3432e6"/>
<rect x="150.70" y="122.69" width="18.50" height="8.42" fill="#3432e6"/>
<rect x="169.20" y="122.69" width="18.50" height="8.42" fill="#3432e6"/>
<rect x="132.20" y="131.11" width="18.50" height="8.42" fill="#3432e6"/>
<rect x="150.70" y="131.11" width="18.50" height="8.42" fill="#3432e6"/>
<rect x="169.20" y="131.11" width="18.50" height="8.42" fill="#3432e6"/>
<rect x="132.20" y="139.54" width="18.50" height="8.42" fill="#5f5fd9"/>
<rect x="150.70" y="139.54" width="18.50" height="8.42" fill="#3432e6"/>
<rect x="169.20" y="139.54" width="18.50" height="8.42" fill="#3432e6"/>
<rect x="187.70" y="139.54" width="18.60" height="8.42" fill="#5f5fd9"/>
<rect x="206.30" y="139.54" width="18.60" height="8.42" fill="#5f5fd9"/>
<rect x="224.90" y="139.54" width="18.60" height="8.42" fill="#3432e6"/>
<rect x="132.20" y="147.96" width="18.50" height="8.42" fill="#5f5fd9"/>
<rect x="150.70" y="147.96" width="18.50" height="8.42" fill="#3432e6"/>
<rect x="169.20" y="147.96" width="18.50" height="8.42" fill="#3432e6"/>
<rect x="187.70" y="147.96" width="18.60" height="8.42" fill="#3432e6"/>
<rect x="206.30" y="147.96" width="18.60" height="8.42" fill="#3432e6"/>
<rect x="224.90" y="147.96" width="18.60" height="8.42" fill="#3432e6"/>
<rect x="132.20" y="156.38" width="18.50" height="8.42" fill="#5f5fd9"/>
<rect x="150.70" y="156.38" width="18.50" height="8.42" fill="#5f5fd9"/>
<rect x="169.20" y="156.38" width="18.50" height="8.42" fill="#3432e6"/>
<rect x="187.70" y="156.38" width="18.60" height="8.42" fill="#3432e6"/>
<rect x="206.30" y="156.38" width="18.60" height="8.42" fill="#3432e6"/>
<rect x="224.90" y="156.38" width="18.60" height="8.42" fill="#3432e6"/>
<rect x="132.20" y="164.81" width="18.50" height="8.42" fill="#3432e6"/>
<rect x="150.70" y="164.81" width="18.50" height="8.42" fill="#5f5fd9"/>
<rect x="169.20" y="164.81" width="18.50" height="8.42" fill="#5f5fd9"/>
<rect x="132.20" y="173.23" width="18.50" height="8.42" fill="#5f5fd9"/>
<rect x="150.70" y="173.23" width="18.50" height="8.42" fill="#5f5fd9"/>
<rect x="169.20" y="173.23" width="18.50" height="8.42" fill="#5f5fd9"/>
<rect x="187.70" y="173.23" width="18.60" height="8.42" fill="#5f5fd9"/>
<rect x="206.30" y="173.23" width="18.60" height="8.42" fill="#5f5fd9"/>
<rect x="224.90" y="173.23" width="18.60" height="8.42" fill="#5f5fd9"/>
<rect x="132.20" y="181.65" width="18.50" height="8.42" fill="#5f5fd9"/>
<rect x="150.70" y="181.65" width="18.50" height="8.42" fill="#5f5fd9"/>
<rect x="169.20" y="181.65" width="18.50" height="8.42" fill="#5f5fd9"/>
<rect x="187.70" y="181.65" width="18.60" height="8.42" fill="#5f5fd9"/>
<rect x="206.30" y="181.65" width="18.60" height="8.42" fill="#5f5fd9"/>
<rect x="224.90" y="181.65" width="18.60" height="8.42" fill="#3432e6"/>
<rect x="132.20" y="190.08" width="18.50" height="8.42" fill="#5f5fd9"/>
<rect x="150.70" y="190.08" width="18.50" height="8.42" fill="#5f5fd9"/>
<rect x="169.20" y="190.08" width="18.50" height="8.42" fill="#3432e6"/>
<rect x="187.70" y="190.08" width="18.60" height="8.42" fill="#5f5fd9"/>
<rect x="206.30" y="190.08" width="18.60" height="8.42" fill="#5f5fd9"/>
<rect x="224.90" y="190.08" width="18.60" height="8.42" fill="#5f5fd9"/>
<rect x="132.20" y="198.50" width="18.50" height="8.42" fill="#8e8ecd"/>
<rect x="150.70" y="198.50" width="18.50" height="8.42" fill="#5f5fd9"/>
<rect x="169.20" y="198.50" width="18.50" height="8.42" fill="#3432e6"/>
<rect x="187.70" y="198.50" width="18.60" height="8.42" fill="#5f5fd9"/>
<rect x="206.30" y="198.50" width="18.60" height="8.42" fill="#8e8ecd"/>
<rect x="224.90" y="198.50" width="18.60" height="8.42" fill="#5f5fd9"/>
<rect x="132.20" y="206.93" width="18.50" height="8.42" fill="#3432e6"/>
<rect x="150.70" y="206.93" width="18.50" height="8.42" fill="#8e8ecd"/>
<rect x="169.20" y="206.93" width="18.50" height="8.42" fill="#5f5fd9"/>
<rect x="187.70" y="206.93" width="18.60" height="8.42" fill="#5f5fd9"/>
<rect x="206.30" y="206.93" width="18.60" height="8.42" fill="#8e8ecd"/>
<rect x="224.90" y="206.93" width="18.60" height="8.42" fill="#5f5fd9"/>
<rect x="132.20" y="215.35" width="18.50" height="8.42" fill="#8e8ecd"/>
<rect x="150.70" y="215.35" width="18.50" height="8.42" fill="#5f5fd9"/>
<rect x="169.20" y="215.35" width="18.50" height="8.42" fill="#3432e6"/>
<rect x="187.70" y="215.35" width="18.60" height="8.42" fill="#5f5fd9"/>
<rect x="206.30" y="215.35" width="18.60" height="8.42" fill="#3432e6"/>
<rect x="224.90" y="215.35" width="18.60" height="8.42" fill="#3432e6"/>
<rect x="132.20" y="223.77" width="18.50" height="8.42" fill="#3432e6"/>
<rect x="150.70" y="223.77" width="18.50" height="8.42" fill="#5f5fd9"/>
<rect x="169.20" y="223.77" width="18.50" height="8.42" fill="#c0c0c0"/>
<rect x="187.70" y="223.77" width="18.60" height="8.42" fill="#5f5fd9"/>
<rect x="206.30" y="223.77" width="18.60" height="8.42" fill="#5f5fd9"/>
<rect x="224.90" y="223.77" width="18.60" height="8.42" fill="#8e8ecd"/>
<rect x="132.20" y="232.20" width="18.50" height="8.42" fill="#5f5fd9"/>
<rect x="150.70" y="232.20" width="18.50" height="8.42" fill="#8e8ecd"/>
<rect x="169.20" y="232.20" width="18.50" height="8.42" fill="#5f5fd9"/>
<rect x="187.70" y="232.20" width="18.60" height="8.42" fill="#5f5fd9"/>
<rect x="206.30" y="232.20" width="18.60" height="8.42" fill="#8e8ecd"/>
<rect x="224.90" y="232.20" width="18.60" height="8.42" fill="#5f5fd9"/>
<rect x="132.20" y="240.62" width="18.50" height="8.42" fill="#8e8ecd"/>
<rect x="150.70" y="240.62" width="18.50" height="8.42" fill="#8e8ecd"/>
<rect x="169.20" y="240.62" width="18.50" height="8.42" fill="#5f5fd9"/>
<rect x="187.70" y="240.62" width="18.60" height="8.42" fill="#8e8ecd"/>
<rect x="206.30" y="240.62" width="18.60" height="8.42" fill="#5f5fd9"/>
<rect x="224.90" y="240.62" width="18.60" height="8.42" fill="#3432e6"/>
<rect x="132.20" y="249.04" width="18.50" height="8.42" fill="#8e8ecd"/>
<rect x="150.70" y="249.04" width="18.50" height="8.42" fill="#5f5fd9"/>
<rect x="169.20" y="249.04" width="18.50" height="8.42" fill="#5f5fd9"/>
<rect x="187.70" y="249.04" width="18.60" height="8.42" fill="#8e8ecd"/>
<rect x="206.30" y="249.04" width="18.60" height="8.42" fill="#5f5fd9"/>
<rect x="224.90" y="249.04" width="18.60" height="8.42" fill="#5f5fd9"/>
<rect x="132.20" y="257.47" width="18.50" height="8.42" fill="#c0c0c0"/>
<rect x="150.70" y="257.47" width="18.50" height="8.42" fill="#5f5fd9"/>
<rect x="169.20" y="257.47" width="18.50" height="8.42" fill="#3432e6"/>
<rect x="132.20" y="265.89" width="18.50" height="8.42" fill="#c0c0c0"/>
<rect x="150.70" y="265.89" width="18.50" height="8.42" fill="#5f5fd9"/>
<rect x="169.20" y="265.89" width="18.50" height="8.42" fill="#5f5fd9"/>
<rect x="132.20" y="274.31" width="18.50" height="8.42" fill="#5f5fd9"/>
<rect x="150.70" y="274.31" width="18.50" height="8.42" fill="#8e8ecd"/>
<rect x="169.20" y="274.31" width="18.50" height="8.42" fill="#5f5fd9"/>
<rect x="187.70" y="274.31" width="18.60" height="8.42" fill="#5f5fd9"/>
<rect x="206.30" y="274.31" width="18.60" height="8.42" fill="#5f5fd9"/>
<rect x="224.90" y="274.31" width="18.60" height="8.42" fill="#3432e6"/>
<rect x="132.20" y="282.74" width="18.50" height="8.42" fill="#c0c0c0"/>
<rect x="150.70" y="282.74" width="18.50" height="8.42" fill="#8e8ecd"/>
<rect x="169.20" y="282.74" width="18.50" height="8.42" fill="#5f5fd9"/>
<rect x="187.70" y="282.74" width="18.60" height="8.42" fill="#8e8ecd"/>
<rect x="206.30" y="282.74" width="18.60" height="8.42" fill="#5f5fd9"/>
<rect x="224.90" y="282.74" width="18.60" height="8.42" fill="#5f5fd9"/>
<rect x="132.20" y="291.16" width="18.50" height="8.42" fill="#8e8ecd"/>
<rect x="150.70" y="291.16" width="18.50" height="8.42" fill="#8e8ecd"/>
<rect x="169.20" y="291.16" width="18.50" height="8.42" fill="#5f5fd9"/>
<rect x="187.70" y="291.16" width="18.60" height="8.42" fill="#8e8ecd"/>
<rect x="206.30" y="291.16" width="18.60" height="8.42" fill="#5f5fd9"/>
<rect x="224.90" y="291.16" width="18.60" height="8.42" fill="#5f5fd9"/>
<rect x="132.20" y="299.59" width="18.50" height="8.42" fill="#5f5fd9"/>
<rect x="150.70" y="299.59" width="18.50" height="8.42" fill="#8e8ecd"/>
<rect x="169.20" y="299.59" width="18.50" height="8.42" fill="#8e8ecd"/>
<rect x="187.70" y="299.59" width="18.60" height="8.42" fill="#5f5fd9"/>
<rect x="206.30" y="299.59" width="18.60" height="8.42" fill="#8e8ecd"/>
<rect x="224.90" y="299.59" width="18.60" height="8.42" fill="#8e8ecd"/>
<rect x="132.20" y="308.01" width="18.50" height="8.42" fill="#5f5fd9"/>
<rect x="150.70" y="308.01" width="18.50" height="8.42" fill="#8e8ecd"/>
<rect x="169.20" y="308.01" width="18.50" height="8.42" fill="#8e8ecd"/>
<rect x="187.70" y="308.01" width="18.60" height="8.42" fill="#8e8ecd"/>
<rect x="206.30" y="308.01" width="18.60" height="8.42" fill="#8e8ecd"/>
<rect x="224.90" y="308.01" width="18.60" height="8.42" fill="#8e8ecd"/>
<rect x="132.20" y="316.43" width="18.50" height="8.42" fill="#5f5fd9"/>
<rect x="150.70" y="316.43" width="18.50" height="8.42" fill="#8e8ecd"/>
<rect x="169.20" y="316.43" width="18.50" height="8.42" fill="#8e8ecd"/>
<rect x="132.20" y="324.86" width="18.50" height="8.42" fill="#5f5fd9"/>
<rect x="150.70" y="324.86" width="18.50" height="8.42" fill="#c0c0c0"/>
<rect x="169.20" y="324.86" width="18.50" height="8.42" fill="#8e8ecd"/>
<rect x="132.20" y="333.28" width="18.50" height="8.42" fill="#8e8ecd"/>
<rect x="150.70" y="333.28" width="18.50" height="8.42" fill="#8e8ecd"/>
<rect x="169.20" y="333.28" width="18.50" height="8.42" fill="#5f5fd9"/>
<rect x="187.70" y="333.28" width="18.60" height="8.42" fill="#8e8ecd"/>
<rect x="206.30" y="333.28" width="18.60" height="8.42" fill="#8e8ecd"/>
<rect x="224.90" y="333.28" width="18.60" height="8.42" fill="#5f5fd9"/>
<rect x="132.20" y="341.70" width="18.50" height="8.42" fill="#8e8ecd"/>
<rect x="150.70" y="341.70" width="18.50" height="8.42" fill="#c0c0c0"/>
<rect x="169.20" y="341.70" width="18.50" height="8.42" fill="#5f5fd9"/>
<rect x="187.70" y="341.70" width="18.60" height="8.42" fill="#8e8ecd"/>
<rect x="206.30" y="341.70" width="18.60" height="8.42" fill="#8e8ecd"/>
<rect x="224.90" y="341.70" width="18.60" height="8.42" fill="#5f5fd9"/>
<rect x="187.70" y="350.13" width="18.60" height="8.42" fill="#1f3bf7"/>
<rect x="206.30" y="350.13" width="18.60" height="8.42" fill="#1f3bf7"/>
<rect x="224.90" y="350.13" width="18.60" height="8.42" fill="#3432e6"/>
<rect x="187.70" y="358.55" width="18.60" height="8.42" fill="#3432e6"/>
<rect x="206.30" y="358.55" width="18.60" height="8.42" fill="#5f5fd9"/>
<rect x="224.90" y="358.55" width="18.60" height="8.42" fill="#1f3bf7"/>
<rect x="187.70" y="366.97" width="18.60" height="8.42" fill="#3432e6"/>
<rect x="206.30" y="366.97" width="18.60" height="8.42" fill="#5f5fd9"/>
<rect x="224.90" y="366.97" width="18.60" height="8.42" fill="#1f3bf7"/>
<rect x="187.70" y="375.40" width="18.60" height="8.42" fill="#3432e6"/>
<rect x="206.30" y="375.40" width="18.60" height="8.42" fill="#3432e6"/>
<rect x="224.90" y="375.40" width="18.60" height="8.42" fill="#3432e6"/>
<rect x="187.70" y="383.82" width="18.60" height="8.42" fill="#3432e6"/>
<rect x="206.30" y="383.82" width="18.60" height="8.42" fill="#5f5fd9"/>
<rect x="224.90" y="383.82" width="18.60" height="8.42" fill="#1f3bf7"/>
<rect x="187.70" y="392.25" width="18.60" height="8.42" fill="#3432e6"/>
<rect x="206.30" y="392.25" width="18.60" height="8.42" fill="#3432e6"/>
<rect x="224.90" y="392.25" width="18.60" height="8.42" fill="#3432e6"/>
<rect x="187.70" y="400.67" width="18.60" height="8.42" fill="#3432e6"/>
<rect x="206.30" y="400.67" width="18.60" height="8.42" fill="#3432e6"/>
<rect x="224.90" y="400.67" width="18.60" height="8.42" fill="#3432e6"/>
<rect x="187.70" y="409.09" width="18.60" height="8.42" fill="#3432e6"/>
<rect x="206.30" y="409.09" width="18.60" height="8.42" fill="#3432e6"/>
<rect x="224.90" y="409.09" width="18.60" height="8.42" fill="#3432e6"/>
<rect x="187.70" y="417.52" width="18.60" height="8.42" fill="#8e8ecd"/>
<rect x="206.30" y="417.52" width="18.60" height="8.42" fill="#8e8ecd"/>
<rect x="224.90" y="417.52" width="18.60" height="8.42" fill="#1f3bf7"/>
<rect x="187.70" y="425.94" width="18.60" height="8.42" fill="#5f5fd9"/>
<rect x="206.30" y="425.94" width="18.60" height="8.42" fill="#5f5fd9"/>
<rect x="224.90" y="425.94" width="18.60" height="8.42" fill="#3432e6"/>
<rect x="187.70" y="434.36" width="18.60" height="8.42" fill="#8e8ecd"/>
<rect x="206.30" y="434.36" width="18.60" height="8.42" fill="#3432e6"/>
<rect x="224.90" y="434.36" width="18.60" height="8.42" fill="#3432e6"/>
<rect x="187.70" y="442.79" width="18.60" height="8.42" fill="#5f5fd9"/>
<rect x="206.30" y="442.79" width="18.60" height="8.42" fill="#5f5fd9"/>
<rect x="224.90" y="442.79" width="18.60" height="8.42" fill="#3432e6"/>
<rect x="187.70" y="451.21" width="18.60" height="8.42" fill="#5f5fd9"/>
<rect x="206.30" y="451.21" width="18.60" height="8.42" fill="#5f5fd9"/>
<rect x="224.90" y="451.21" width="18.60" height="8.42" fill="#5f5fd9"/>
<rect x="187.70" y="459.63" width="18.60" height="8.42" fill="#5f5fd9"/>
<rect x="206.30" y="459.63" width="18.60" height="8.42" fill="#5f5fd9"/>
<rect x="224.90" y="459.63" width="18.60" height="8.42" fill="#5f5fd9"/>
<rect x="187.70" y="468.06" width="18.60" height="8.42" fill="#5f5fd9"/>
<rect x="206.30" y="468.06" width="18.60" height="8.42" fill="#5f5fd9"/>
<rect x="224.90" y="468.06" width="18.60" height="8.42" fill="#5f5fd9"/>
<rect x="187.70" y="476.48" width="18.60" height="8.42" fill="#c0c0c0"/>
<rect x="206.30" y="476.48" width="18.60" height="8.42" fill="#5f5fd9"/>
<rect x="224.90" y="476.48" width="18.60" height="8.42" fill="#3432e6"/>
<rect x="187.70" y="484.91" width="18.60" height="8.42" fill="#8e8ecd"/>
<rect x="206.30" y="484.91" width="18.60" height="8.42" fill="#5f5fd9"/>
<rect x="224.90" y="484.91" width="18.60" height="8.42" fill="#3432e6"/>
<rect x="187.70" y="493.33" width="18.60" height="8.42" fill="#5f5fd9"/>
<rect x="206.30" y="493.33" width="18.60" height="8.42" fill="#5f5fd9"/>
<rect x="224.90" y="493.33" width="18.60" height="8.42" fill="#5f5fd9"/>
<rect x="187.70" y="501.75" width="18.60" height="8.42" fill="#5f5fd9"/>
<rect x="206.30" y="501.75" width="18.60" height="8.42" fill="#8e8ecd"/>
<rect x="224.90" y="501.75" width="18.60" height="8.42" fill="#8e8ecd"/>
<rect x="187.70" y="510.18" width="18.60" height="8.42" fill="#5f5fd9"/>
<rect x="206.30" y="510.18" width="18.60" height="8.42" fill="#8e8ecd"/>
<rect x="224.90" y="510.18" width="18.60" height="8.42" fill="#8e8ecd"/>
<line x1="187.90" y1="51.60" x2="187.90" y2="519.20" stroke="#111130" stroke-width="0.8"/>
<line x1="95.40" y1="57.10" x2="95.40" y2="515.60" stroke="#111" stroke-width="1.1"/>
<line x1="92.40" y1="60.10" x2="95.40" y2="60.10" stroke="#111" stroke-width="0.9"/>
<line x1="92.40" y1="68.49" x2="95.40" y2="68.49" stroke="#111" stroke-width="0.9"/>
<line x1="92.40" y1="76.87" x2="95.40" y2="76.87" stroke="#111" stroke-width="0.9"/>
<line x1="92.40" y1="85.26" x2="95.40" y2="85.26" stroke="#111" stroke-width="0.9"/>
<line x1="92.40" y1="93.65" x2="95.40" y2="93.65" stroke="#111" stroke-width="0.9"/>
<line x1="92.40" y1="102.04" x2="95.40" y2="102.04" stroke="#111" stroke-width="0.9"/>
<line x1="92.40" y1="110.42" x2="95.40" y2="110.42" stroke="#111" stroke-width="0.9"/>
<line x1="92.40" y1="118.81" x2="95.40" y2="118.81" stroke="#111" stroke-width="0.9"/>
<line x1="92.40" y1="127.20" x2="95.40" y2="127.20" stroke="#111" stroke-width="0.9"/>
<line x1="92.40" y1="135.58" x2="95.40" y2="135.58" stroke="#111" stroke-width="0.9"/>
<line x1="92.40" y1="143.97" x2="95.40" y2="143.97" stroke="#111" stroke-width="0.9"/>
<line x1="92.40" y1="152.36" x2="95.40" y2="152.36" stroke="#111" stroke-width="0.9"/>
<line x1="92.40" y1="160.74" x2="95.40" y2="160.74" stroke="#111" stroke-width="0.9"/>
<line x1="92.40" y1="169.13" x2="95.40" y2="169.13" stroke="#111" stroke-width="0.9"/>
<line x1="92.40" y1="177.52" x2="95.40" y2="177.52" stroke="#111" stroke-width="0.9"/>
<line x1="92.40" y1="185.91" x2="95.40" y2="185.91" stroke="#111" stroke-width="0.9"/>
<line x1="92.40" y1="194.29" x2="95.40" y2="194.29" stroke="#111" stroke-width="0.9"/>
<line x1="92.40" y1="202.68" x2="95.40" y2="202.68" stroke="#111" stroke-width="0.9"/>
<line x1="92.40" y1="211.07" x2="95.40" y2="211.07" stroke="#111" stroke-width="0.9"/>
<line x1="92.40" y1="219.45" x2="95.40" y2="219.45" stroke="#111" stroke-width="0.9"/>
<line x1="92.40" y1="227.84" x2="95.40" y2="227.84" stroke="#111" stroke-width="0.9"/>
<line x1="92.40" y1="236.23" x2="95.40" y2="236.23" stroke="#111" stroke-width="0.9"/>
<line x1="92.40" y1="244.61" x2="95.40" y2="244.61" stroke="#111" stroke-width="0.9"/>
<line x1="92.40" y1="253.00" x2="95.40" y2="253.00" stroke="#111" stroke-width="0.9"/>
<line x1="92.40" y1="261.39" x2="95.40" y2="261.39" stroke="#111" stroke-width="0.9"/>
<line x1="92.40" y1="269.78" x2="95.40" y2="269.78" stroke="#111" stroke-width="0.9"/>
<line x1="92.40" y1="278.16" x2="95.40" y2="278.16" stroke="#111" stroke-width="0.9"/>
<line x1="92.40" y1="286.55" x2="95.40" y2="286.55" stroke="#111" stroke-width="0.9"/>
<line x1="92.40" y1="294.94" x2="95.40" y2="294.94" stroke="#111" stroke-width="0.9"/>
<line x1="92.40" y1="303.32" x2="95.40" y2="303.32" stroke="#111" stroke-width="0.9"/>
<line x1="92.40" y1="311.71" x2="95.40" y2="311.71" stroke="#111" stroke-width="0.9"/>
<line x1="92.40" y1="320.10" x2="95.40" y2="320.10" stroke="#111" stroke-width="0.9"/>
<line x1="92.40" y1="328.49" x2="95.40" y2="328.49" stroke="#111" stroke-width="0.9"/>
<line x1="92.40" y1="336.87" x2="95.40" y2="336.87" stroke="#111" stroke-width="0.9"/>
<line x1="92.40" y1="345.26" x2="95.40" y2="345.26" stroke="#111" stroke-width="0.9"/>
<line x1="92.40" y1="353.65" x2="95.40" y2="353.65" stroke="#111" stroke-width="0.9"/>
<line x1="92.40" y1="362.03" x2="95.40" y2="362.03" stroke="#111" stroke-width="0.9"/>
<line x1="92.40" y1="370.42" x2="95.40" y2="370.42" stroke="#111" stroke-width="0.9"/>
<line x1="92.40" y1="378.81" x2="95.40" y2="378.81" stroke="#111" stroke-width="0.9"/>
<line x1="92.40" y1="387.19" x2="95.40" y2="387.19" stroke="#111" stroke-width="0.9"/>
<line x1="92.40" y1="395.58" x2="95.40" y2="395.58" stroke="#111" stroke-width="0.9"/>
<line x1="92.40" y1="403.97" x2="95.40" y2="403.97" stroke="#111" stroke-width="0.9"/>
<line x1="92.40" y1="412.36" x2="95.40" y2="412.36" stroke="#111" stroke-width="0.9"/>
<line x1="92.40" y1="420.74" x2="95.40" y2="420.74" stroke="#111" stroke-width="0.9"/>
<line x1="92.40" y1="429.13" x2="95.40" y2="429.13" stroke="#111" stroke-width="0.9"/>
<line x1="92.40" y1="437.52" x2="95.40" y2="437.52" stroke="#111" stroke-width="0.9"/>
<line x1="92.40" y1="445.90" x2="95.40" y2="445.90" stroke="#111" stroke-width="0.9"/>
<line x1="92.40" y1="454.29" x2="95.40" y2="454.29" stroke="#111" stroke-width="0.9"/>
<line x1="92.40" y1="462.68" x2="95.40" y2="462.68" stroke="#111" stroke-width="0.9"/>
<line x1="92.40" y1="471.06" x2="95.40" y2="471.06" stroke="#111" stroke-width="0.9"/>
<line x1="92.40" y1="479.45" x2="95.40" y2="479.45" stroke="#111" stroke-width="0.9"/>
<line x1="92.40" y1="487.84" x2="95.40" y2="487.84" stroke="#111" stroke-width="0.9"/>
<line x1="92.40" y1="496.23" x2="95.40" y2="496.23" stroke="#111" stroke-width="0.9"/>
<line x1="92.40" y1="504.61" x2="95.40" y2="504.61" stroke="#111" stroke-width="0.9"/>
<line x1="92.40" y1="513.00" x2="95.40" y2="513.00" stroke="#111" stroke-width="0.9"/>
<line x1="149.35" y1="30.20" x2="222.15" y2="30.20" stroke="#222" stroke-width="0.55"/>
<rect x="375.70" y="54.40" width="19.73" height="8.46" fill="#3432e6"/>
<rect x="375.70" y="54.40" width="18.53" height="9.66" fill="#3432e6"/>
<rect x="375.70" y="54.40" width="19.73" height="9.66" fill="#3432e6"/>
<rect x="394.23" y="54.40" width="19.73" height="8.46" fill="#3432e6"/>
<rect x="394.23" y="54.40" width="18.53" height="9.66" fill="#3432e6"/>
<rect x="394.23" y="54.40" width="19.73" height="9.66" fill="#3432e6"/>
<rect x="412.77" y="54.40" width="18.53" height="9.66" fill="#1f3bf7"/>
<rect x="375.70" y="62.86" width="19.73" height="8.46" fill="#1f3bf7"/>
<rect x="375.70" y="62.86" width="18.53" height="9.66" fill="#1f3bf7"/>
<rect x="375.70" y="62.86" width="19.73" height="9.66" fill="#1f3bf7"/>
<rect x="394.23" y="62.86" width="19.73" height="8.46" fill="#1f3bf7"/>
<rect x="394.23" y="62.86" width="18.53" height="9.66" fill="#1f3bf7"/>
<rect x="394.23" y="62.86" width="19.73" height="9.66" fill="#1f3bf7"/>
<rect x="412.77" y="62.86" width="19.73" height="8.46" fill="#8e8ecd"/>
<rect x="412.77" y="62.86" width="18.53" height="9.66" fill="#8e8ecd"/>
<rect x="412.77" y="62.86" width="19.73" height="9.66" fill="#8e8ecd"/>
<rect x="431.30" y="62.86" width="19.70" height="8.46" fill="#1f3bf7"/>
<rect x="431.30" y="62.86" width="18.50" height="9.66" fill="#1f3bf7"/>
<rect x="431.30" y="62.86" width="19.70" height="9.66" fill="#1f3bf7"/>
<rect x="449.80" y="62.86" width="19.70" height="8.46" fill="#3432e6"/>
<rect x="449.80" y="62.86" width="18.50" height="9.66" fill="#3432e6"/>
<rect x="449.80" y="62.86" width="19.70" height="9.66" fill="#3432e6"/>
<rect x="468.30" y="62.86" width="18.50" height="9.66" fill="#8e8ecd"/>
<rect x="375.70" y="71.32" width="19.73" height="8.46" fill="#3432e6"/>
<rect x="375.70" y="71.32" width="18.53" height="9.66" fill="#3432e6"/>
<rect x="375.70" y="71.32" width="19.73" height="9.66" fill="#3432e6"/>
<rect x="394.23" y="71.32" width="19.73" height="8.46" fill="#3432e6"/>
<rect x="394.23" y="71.32" width="18.53" height="9.66" fill="#3432e6"/>
<rect x="394.23" y="71.32" width="19.73" height="9.66" fill="#3432e6"/>
<rect x="412.77" y="71.32" width="19.73" height="8.46" fill="#1f3bf7"/>
<rect x="412.77" y="71.32" width="18.53" height="9.66" fill="#1f3bf7"/>
<rect x="412.77" y="71.32" width="19.73" height="9.66" fill="#1f3bf7"/>
<rect x="431.30" y="71.32" width="19.70" height="8.46" fill="#1f3bf7"/>
<rect x="431.30" y="71.32" width="18.50" height="9.66" fill="#1f3bf7"/>
<rect x="431.30" y="71.32" width="19.70" height="9.66" fill="#1f3bf7"/>
<rect x="449.80" y="71.32" width="19.70" height="8.46" fill="#3432e6"/>
<rect x="449.80" y="71.32" width="18.50" height="9.66" fill="#3432e6"/>
<rect x="449.80" y="71.32" width="19.70" height="9.66" fill="#3432e6"/>
<rect x="468.30" y="71.32" width="18.50" height="9.66" fill="#1f3bf7"/>
<rect x="375.70" y="79.77" width="19.73" height="8.46" fill="#5f5fd9"/>
<rect x="375.70" y="79.77" width="18.53" height="9.66" fill="#5f5fd9"/>
<rect x="375.70" y="79.77" width="19.73" height="9.66" fill="#5f5fd9"/>
<rect x="394.23" y="79.77" width="19.73" height="8.46" fill="#3432e6"/>
<rect x="394.23" y="79.77" width="18.53" height="9.66" fill="#3432e6"/>
<rect x="394.23" y="79.77" width="19.73" height="9.66" fill="#3432e6"/>
<rect x="412.77" y="79.77" width="19.73" height="8.46" fill="#3432e6"/>
<rect x="412.77" y="79.77" width="18.53" height="9.66" fill="#3432e6"/>
<rect x="431.30" y="79.77" width="19.70" height="8.46" fill="#5f5fd9"/>
<rect x="449.80" y="79.77" width="19.70" height="8.46" fill="#1f3bf7"/>
<rect x="375.70" y="88.23" width="19.73" height="8.46" fill="#1f3bf7"/>
<rect x="375.70" y="88.23" width="18.53" height="9.66" fill="#1f3bf7"/>
<rect x="375.70" y="88.23" width="19.73" height="9.66" fill="#1f3bf7"/>
<rect x="394.23" y="88.23" width="19.73" height="8.46" fill="#3432e6"/>
<rect x="394.23" y="88.23" width="18.53" height="9.66" fill="#3432e6"/>
<rect x="394.23" y="88.23" width="19.73" height="9.66" fill="#3432e6"/>
<rect x="412.77" y="88.23" width="18.53" height="9.66" fill="#8e8ecd"/>
<rect x="375.70" y="96.69" width="19.73" height="8.46" fill="#3432e6"/>
<rect x="375.70" y="96.69" width="18.53" height="9.66" fill="#3432e6"/>
<rect x="375.70" y="96.69" width="19.73" height="9.66" fill="#3432e6"/>
<rect x="394.23" y="96.69" width="19.73" height="8.46" fill="#3432e6"/>
<rect x="394.23" y="96.69" width="18.53" height="9.66" fill="#3432e6"/>
<rect x="394.23" y="96.69" width="19.73" height="9.66" fill="#3432e6"/>
<rect x="412.77" y="96.69" width="19.73" height="8.46" fill="#3432e6"/>
<rect x="412.77" y="96.69" width="18.53" height="9.66" fill="#3432e6"/>
<rect x="431.30" y="96.69" width="19.70" height="8.46" fill="#5f5fd9"/>
<rect x="449.80" y="96.69" width="19.70" height="8.46" fill="#3432e6"/>
<rect x="375.70" y="105.15" width="19.73" height="8.46" fill="#3432e6"/>
<rect x="375.70" y="105.15" width="18.53" height="9.66" fill="#3432e6"/>
<rect x="375.70" y="105.15" width="19.73" height="9.66" fill="#3432e6"/>
<rect x="394.23" y="105.15" width="19.73" height="8.46" fill="#3432e6"/>
<rect x="394.23" y="105.15" width="18.53" height="9.66" fill="#3432e6"/>
<rect x="394.23" y="105.15" width="19.73" height="9.66" fill="#3432e6"/>
<rect x="412.77" y="105.15" width="18.53" height="9.66" fill="#3432e6"/>
<rect x="375.70" y="113.61" width="19.73" height="8.46" fill="#3432e6"/>
<rect x="375.70" y="113.61" width="18.53" height="9.66" fill="#3432e6"/>
<rect x="375.70" y="113.61" width="19.73" height="9.66" fill="#3432e6"/>
<rect x="394.23" y="113.61" width="19.73" height="8.46" fill="#5f5fd9"/>
<rect x="394.23" y="113.61" width="18.53" height="9.66" fill="#5f5fd9"/>
<rect x="394.23" y="113.61" width="19.73" height="9.66" fill="#5f5fd9"/>
<rect x="412.77" y="113.61" width="18.53" height="9.66" fill="#3432e6"/>
<rect x="375.70" y="122.06" width="19.73" height="8.46" fill="#3432e6"/>
<rect x="375.70" y="122.06" width="18.53" height="9.66" fill="#3432e6"/>
<rect x="375.70" y="122.06" width="19.73" height="9.66" fill="#3432e6"/>
<rect x="394.23" y="122.06" width="19.73" height="8.46" fill="#3432e6"/>
<rect x="394.23" y="122.06" width="18.53" height="9.66" fill="#3432e6"/>
<rect x="394.23" y="122.06" width="19.73" height="9.66" fill="#3432e6"/>
<rect x="412.77" y="122.06" width="18.53" height="9.66" fill="#5f5fd9"/>
<rect x="375.70" y="130.52" width="19.73" height="8.46" fill="#3432e6"/>
<rect x="375.70" y="130.52" width="18.53" height="9.66" fill="#3432e6"/>
<rect x="375.70" y="130.52" width="19.73" height="9.66" fill="#3432e6"/>
<rect x="394.23" y="130.52" width="19.73" height="8.46" fill="#3432e6"/>
<rect x="394.23" y="130.52" width="18.53" height="9.66" fill="#3432e6"/>
<rect x="394.23" y="130.52" width="19.73" height="9.66" fill="#3432e6"/>
<rect x="412.77" y="130.52" width="19.73" height="8.46" fill="#3432e6"/>
<rect x="412.77" y="130.52" width="18.53" height="9.66" fill="#3432e6"/>
<rect x="412.77" y="130.52" width="19.73" height="9.66" fill="#3432e6"/>
<rect x="431.30" y="130.52" width="19.70" height="8.46" fill="#3432e6"/>
<rect x="431.30" y="130.52" width="18.50" height="9.66" fill="#3432e6"/>
<rect x="431.30" y="130.52" width="19.70" height="9.66" fill="#3432e6"/>
<rect x="449.80" y="130.52" width="19.70" height="8.46" fill="#3432e6"/>
<rect x="449.80" y="130.52" width="18.50" height="9.66" fill="#3432e6"/>
<rect x="449.80" y="130.52" width="19.70" height="9.66" fill="#3432e6"/>
<rect x="468.30" y="130.52" width="18.50" height="9.66" fill="#3432e6"/>
<rect x="375.70" y="138.98" width="19.73" height="8.46" fill="#8e8ecd"/>
<rect x="375.70" y="138.98" width="18.53" height="9.66" fill="#8e8ecd"/>
<rect x="375.70" y="138.98" width="19.73" height="9.66" fill="#8e8ecd"/>
<rect x="394.23" y="138.98" width="19.73" height="8.46" fill="#3432e6"/>
<rect x="394.23" y="138.98" width="18.53" height="9.66" fill="#3432e6"/>
<rect x="394.23" y="138.98" width="19.73" height="9.66" fill="#3432e6"/>
<rect x="412.77" y="138.98" width="19.73" height="8.46" fill="#3432e6"/>
<rect x="412.77" y="138.98" width="18.53" height="9.66" fill="#3432e6"/>
<rect x="412.77" y="138.98" width="19.73" height="9.66" fill="#3432e6"/>
<rect x="431.30" y="138.98" width="19.70" height="8.46" fill="#5f5fd9"/>
<rect x="431.30" y="138.98" width="18.50" height="9.66" fill="#5f5fd9"/>
<rect x="431.30" y="138.98" width="19.70" height="9.66" fill="#5f5fd9"/>
<rect x="449.80" y="138.98" width="19.70" height="8.46" fill="#3432e6"/>
<rect x="449.80" y="138.98" width="18.50" height="9.66" fill="#3432e6"/>
<rect x="449.80" y="138.98" width="19.70" height="9.66" fill="#3432e6"/>
<rect x="468.30" y="138.98" width="18.50" height="9.66" fill="#1f3bf7"/>
<rect x="375.70" y="147.44" width="19.73" height="8.46" fill="#3432e6"/>
<rect x="375.70" y="147.44" width="18.53" height="9.66" fill="#3432e6"/>
<rect x="375.70" y="147.44" width="19.73" height="9.66" fill="#3432e6"/>
<rect x="394.23" y="147.44" width="19.73" height="8.46" fill="#3432e6"/>
<rect x="394.23" y="147.44" width="18.53" height="9.66" fill="#3432e6"/>
<rect x="394.23" y="147.44" width="19.73" height="9.66" fill="#3432e6"/>
<rect x="412.77" y="147.44" width="19.73" height="8.46" fill="#3432e6"/>
<rect x="412.77" y="147.44" width="18.53" height="9.66" fill="#3432e6"/>
<rect x="412.77" y="147.44" width="19.73" height="9.66" fill="#3432e6"/>
<rect x="431.30" y="147.44" width="19.70" height="8.46" fill="#5f5fd9"/>
<rect x="431.30" y="147.44" width="18.50" height="9.66" fill="#5f5fd9"/>
<rect x="431.30" y="147.44" width="19.70" height="9.66" fill="#5f5fd9"/>
<rect x="449.80" y="147.44" width="19.70" height="8.46" fill="#3432e6"/>
<rect x="449.80" y="147.44" width="18.50" height="9.66" fill="#3432e6"/>
<rect x="449.80" y="147.44" width="19.70" height="9.66" fill="#3432e6"/>
<rect x="468.30" y="147.44" width="18.50" height="9.66" fill="#5f5fd9"/>
<rect x="375.70" y="155.89" width="19.73" height="8.46" fill="#3432e6"/>
<rect x="375.70" y="155.89" width="18.53" height="9.66" fill="#3432e6"/>
<rect x="375.70" y="155.89" width="19.73" height="9.66" fill="#3432e6"/>
<rect x="394.23" y="155.89" width="19.73" height="8.46" fill="#5f5fd9"/>
<rect x="394.23" y="155.89" width="18.53" height="9.66" fill="#5f5fd9"/>
<rect x="394.23" y="155.89" width="19.73" height="9.66" fill="#5f5fd9"/>
<rect x="412.77" y="155.89" width="19.73" height="8.46" fill="#3432e6"/>
<rect x="412.77" y="155.89" width="18.53" height="9.66" fill="#3432e6"/>
<rect x="412.77" y="155.89" width="19.73" height="9.66" fill="#3432e6"/>
<rect x="431.30" y="155.89" width="19.70" height="8.46" fill="#3432e6"/>
<rect x="431.30" y="155.89" width="18.50" height="9.66" fill="#3432e6"/>
<rect x="431.30" y="155.89" width="19.70" height="9.66" fill="#3432e6"/>
<rect x="449.80" y="155.89" width="19.70" height="8.46" fill="#5f5fd9"/>
<rect x="449.80" y="155.89" width="18.50" height="9.66" fill="#5f5fd9"/>
<rect x="449.80" y="155.89" width="19.70" height="9.66" fill="#5f5fd9"/>
<rect x="468.30" y="155.89" width="18.50" height="9.66" fill="#5f5fd9"/>
<rect x="375.70" y="164.35" width="19.73" height="8.46" fill="#3432e6"/>
<rect x="375.70" y="164.35" width="18.53" height="9.66" fill="#3432e6"/>
<rect x="375.70" y="164.35" width="19.73" height="9.66" fill="#3432e6"/>
<rect x="394.23" y="164.35" width="19.73" height="8.46" fill="#5f5fd9"/>
<rect x="394.23" y="164.35" width="18.53" height="9.66" fill="#5f5fd9"/>
<rect x="394.23" y="164.35" width="19.73" height="9.66" fill="#5f5fd9"/>
<rect x="412.77" y="164.35" width="19.73" height="8.46" fill="#3432e6"/>
<rect x="412.77" y="164.35" width="18.53" height="9.66" fill="#3432e6"/>
<rect x="431.30" y="164.35" width="19.70" height="8.46" fill="#5f5fd9"/>
<rect x="449.80" y="164.35" width="19.70" height="8.46" fill="#8e8ecd"/>
<rect x="375.70" y="172.81" width="19.73" height="8.46" fill="#5f5fd9"/>
<rect x="375.70" y="172.81" width="18.53" height="9.66" fill="#5f5fd9"/>
<rect x="375.70" y="172.81" width="19.73" height="9.66" fill="#5f5fd9"/>
<rect x="394.23" y="172.81" width="19.73" height="8.46" fill="#3432e6"/>
<rect x="394.23" y="172.81" width="18.53" height="9.66" fill="#3432e6"/>
<rect x="394.23" y="172.81" width="19.73" height="9.66" fill="#3432e6"/>
<rect x="412.77" y="172.81" width="18.53" height="9.66" fill="#3432e6"/>
<rect x="375.70" y="181.27" width="19.73" height="8.46" fill="#5f5fd9"/>
<rect x="375.70" y="181.27" width="18.53" height="9.66" fill="#5f5fd9"/>
<rect x="375.70" y="181.27" width="19.73" height="9.66" fill="#5f5fd9"/>
<rect x="394.23" y="181.27" width="19.73" height="8.46" fill="#5f5fd9"/>
<rect x="394.23" y="181.27" width="18.53" height="9.66" fill="#5f5fd9"/>
<rect x="394.23" y="181.27" width="19.73" height="9.66" fill="#5f5fd9"/>
<rect x="412.77" y="181.27" width="19.73" height="8.46" fill="#3432e6"/>
<rect x="412.77" y="181.27" width="18.53" height="9.66" fill="#3432e6"/>
<rect x="412.77" y="181.27" width="19.73" height="9.66" fill="#3432e6"/>
<rect x="431.30" y="181.27" width="19.70" height="8.46" fill="#3432e6"/>
<rect x="431.30" y="181.27" width="18.50" height="9.66" fill="#3432e6"/>
<rect x="431.30" y="181.27" width="19.70" height="9.66" fill="#3432e6"/>
<rect x="449.80" y="181.27" width="19.70" height="8.46" fill="#3432e6"/>
<rect x="449.80" y="181.27" width="18.50" height="9.66" fill="#3432e6"/>
<rect x="449.80" y="181.27" width="19.70" height="9.66" fill="#3432e6"/>
<rect x="468.30" y="181.27" width="18.50" height="9.66" fill="#1f3bf7"/>
<rect x="375.70" y="189.73" width="19.73" height="8.46" fill="#5f5fd9"/>
<rect x="375.70" y="189.73" width="18.53" height="9.66" fill="#5f5fd9"/>
<rect x="375.70" y="189.73" width="19.73" height="9.66" fill="#5f5fd9"/>
<rect x="394.23" y="189.73" width="19.73" height="8.46" fill="#5f5fd9"/>
<rect x="394.23" y="189.73" width="18.53" height="9.66" fill="#5f5fd9"/>
<rect x="394.23" y="189.73" width="19.73" height="9.66" fill="#5f5fd9"/>
<rect x="412.77" y="189.73" width="19.73" height="8.46" fill="#3432e6"/>
<rect x="412.77" y="189.73" width="18.53" height="9.66" fill="#3432e6"/>
<rect x="412.77" y="189.73" width="19.73" height="9.66" fill="#3432e6"/>
<rect x="431.30" y="189.73" width="19.70" height="8.46" fill="#5f5fd9"/>
<rect x="431.30" y="189.73" width="18.50" height="9.66" fill="#5f5fd9"/>
<rect x="431.30" y="189.73" width="19.70" height="9.66" fill="#5f5fd9"/>
<rect x="449.80" y="189.73" width="19.70" height="8.46" fill="#5f5fd9"/>
<rect x="449.80" y="189.73" width="18.50" height="9.66" fill="#5f5fd9"/>
<rect x="449.80" y="189.73" width="19.70" height="9.66" fill="#5f5fd9"/>
<rect x="468.30" y="189.73" width="18.50" height="9.66" fill="#5f5fd9"/>
<rect x="375.70" y="198.18" width="19.73" height="8.46" fill="#5f5fd9"/>
<rect x="375.70" y="198.18" width="18.53" height="9.66" fill="#5f5fd9"/>
<rect x="375.70" y="198.18" width="19.73" height="9.66" fill="#5f5fd9"/>
<rect x="394.23" y="198.18" width="19.73" height="8.46" fill="#5f5fd9"/>
<rect x="394.23" y="198.18" width="18.53" height="9.66" fill="#5f5fd9"/>
<rect x="394.23" y="198.18" width="19.73" height="9.66" fill="#5f5fd9"/>
<rect x="412.77" y="198.18" width="19.73" height="8.46" fill="#3432e6"/>
<rect x="412.77" y="198.18" width="18.53" height="9.66" fill="#3432e6"/>
<rect x="412.77" y="198.18" width="19.73" height="9.66" fill="#3432e6"/>
<rect x="431.30" y="198.18" width="19.70" height="8.46" fill="#5f5fd9"/>
<rect x="431.30" y="198.18" width="18.50" height="9.66" fill="#5f5fd9"/>
<rect x="431.30" y="198.18" width="19.70" height="9.66" fill="#5f5fd9"/>
<rect x="449.80" y="198.18" width="19.70" height="8.46" fill="#5f5fd9"/>
<rect x="449.80" y="198.18" width="18.50" height="9.66" fill="#5f5fd9"/>
<rect x="449.80" y="198.18" width="19.70" height="9.66" fill="#5f5fd9"/>
<rect x="468.30" y="198.18" width="18.50" height="9.66" fill="#3432e6"/>
<rect x="375.70" y="206.64" width="19.73" height="8.46" fill="#5f5fd9"/>
<rect x="375.70" y="206.64" width="18.53" height="9.66" fill="#5f5fd9"/>
<rect x="375.70" y="206.64" width="19.73" height="9.66" fill="#5f5fd9"/>
<rect x="394.23" y="206.64" width="19.73" height="8.46" fill="#5f5fd9"/>
<rect x="394.23" y="206.64" width="18.53" height="9.66" fill="#5f5fd9"/>
<rect x="394.23" y="206.64" width="19.73" height="9.66" fill="#5f5fd9"/>
<rect x="412.77" y="206.64" width="19.73" height="8.46" fill="#3432e6"/>
<rect x="412.77" y="206.64" width="18.53" height="9.66" fill="#3432e6"/>
<rect x="412.77" y="206.64" width="19.73" height="9.66" fill="#3432e6"/>
<rect x="431.30" y="206.64" width="19.70" height="8.46" fill="#3432e6"/>
<rect x="431.30" y="206.64" width="18.50" height="9.66" fill="#3432e6"/>
<rect x="431.30" y="206.64" width="19.70" height="9.66" fill="#3432e6"/>
<rect x="449.80" y="206.64" width="19.70" height="8.46" fill="#3432e6"/>
<rect x="449.80" y="206.64" width="18.50" height="9.66" fill="#3432e6"/>
<rect x="449.80" y="206.64" width="19.70" height="9.66" fill="#3432e6"/>
<rect x="468.30" y="206.64" width="18.50" height="9.66" fill="#3432e6"/>
<rect x="375.70" y="215.10" width="19.73" height="8.46" fill="#5f5fd9"/>
<rect x="375.70" y="215.10" width="18.53" height="9.66" fill="#5f5fd9"/>
<rect x="375.70" y="215.10" width="19.73" height="9.66" fill="#5f5fd9"/>
<rect x="394.23" y="215.10" width="19.73" height="8.46" fill="#3432e6"/>
<rect x="394.23" y="215.10" width="18.53" height="9.66" fill="#3432e6"/>
<rect x="394.23" y="215.10" width="19.73" height="9.66" fill="#3432e6"/>
<rect x="412.77" y="215.10" width="19.73" height="8.46" fill="#5f5fd9"/>
<rect x="412.77" y="215.10" width="18.53" height="9.66" fill="#5f5fd9"/>
<rect x="412.77" y="215.10" width="19.73" height="9.66" fill="#5f5fd9"/>
<rect x="431.30" y="215.10" width="19.70" height="8.46" fill="#5f5fd9"/>
<rect x="431.30" y="215.10" width="18.50" height="9.66" fill="#5f5fd9"/>
<rect x="431.30" y="215.10" width="19.70" height="9.66" fill="#5f5fd9"/>
<rect x="449.80" y="215.10" width="19.70" height="8.46" fill="#5f5fd9"/>
<rect x="449.80" y="215.10" width="18.50" height="9.66" fill="#5f5fd9"/>
<rect x="449.80" y="215.10" width="19.70" height="9.66" fill="#5f5fd9"/>
<rect x="468.30" y="215.10" width="18.50" height="9.66" fill="#3432e6"/>
<rect x="375.70" y="223.56" width="19.73" height="8.46" fill="#5f5fd9"/>
<rect x="375.70" y="223.56" width="18.53" height="9.66" fill="#5f5fd9"/>
<rect x="375.70" y="223.56" width="19.73" height="9.66" fill="#5f5fd9"/>
<rect x="394.23" y="223.56" width="19.73" height="8.46" fill="#5f5fd9"/>
<rect x="394.23" y="223.56" width="18.53" height="9.66" fill="#5f5fd9"/>
<rect x="394.23" y="223.56" width="19.73" height="9.66" fill="#5f5fd9"/>
<rect x="412.77" y="223.56" width="19.73" height="8.46" fill="#5f5fd9"/>
<rect x="412.77" y="223.56" width="18.53" height="9.66" fill="#5f5fd9"/>
<rect x="431.30" y="223.56" width="19.70" height="8.46" fill="#5f5fd9"/>
<rect x="449.80" y="223.56" width="19.70" height="8.46" fill="#3432e6"/>
<rect x="375.70" y="232.02" width="19.73" height="8.46" fill="#8e8ecd"/>
<rect x="375.70" y="232.02" width="18.53" height="9.66" fill="#8e8ecd"/>
<rect x="375.70" y="232.02" width="19.73" height="9.66" fill="#8e8ecd"/>
<rect x="394.23" y="232.02" width="19.73" height="8.46" fill="#5f5fd9"/>
<rect x="394.23" y="232.02" width="18.53" height="9.66" fill="#5f5fd9"/>
<rect x="394.23" y="232.02" width="19.73" height="9.66" fill="#5f5fd9"/>
<rect x="412.77" y="232.02" width="18.53" height="9.66" fill="#5f5fd9"/>
<rect x="375.70" y="240.47" width="19.73" height="8.46" fill="#5f5fd9"/>
<rect x="375.70" y="240.47" width="18.53" height="9.66" fill="#5f5fd9"/>
<rect x="375.70" y="240.47" width="19.73" height="9.66" fill="#5f5fd9"/>
<rect x="394.23" y="240.47" width="19.73" height="8.46" fill="#3432e6"/>
<rect x="394.23" y="240.47" width="18.53" height="9.66" fill="#3432e6"/>
<rect x="394.23" y="240.47" width="19.73" height="9.66" fill="#3432e6"/>
<rect x="412.77" y="240.47" width="18.53" height="9.66" fill="#8e8ecd"/>
<rect x="375.70" y="248.93" width="19.73" height="8.46" fill="#5f5fd9"/>
<rect x="375.70" y="248.93" width="18.53" height="9.66" fill="#5f5fd9"/>
<rect x="375.70" y="248.93" width="19.73" height="9.66" fill="#5f5fd9"/>
<rect x="394.23" y="248.93" width="19.73" height="8.46" fill="#5f5fd9"/>
<rect x="394.23" y="248.93" width="18.53" height="9.66" fill="#5f5fd9"/>
<rect x="394.23" y="248.93" width="19.73" height="9.66" fill="#5f5fd9"/>
<rect x="412.77" y="248.93" width="18.53" height="9.66" fill="#5f5fd9"/>
<rect x="375.70" y="257.39" width="19.73" height="8.46" fill="#5f5fd9"/>
<rect x="375.70" y="257.39" width="18.53" height="9.66" fill="#5f5fd9"/>
<rect x="375.70" y="257.39" width="19.73" height="9.66" fill="#5f5fd9"/>
<rect x="394.23" y="257.39" width="19.73" height="8.46" fill="#8e8ecd"/>
<rect x="394.23" y="257.39" width="18.53" height="9.66" fill="#8e8ecd"/>
<rect x="394.23" y="257.39" width="19.73" height="9.66" fill="#8e8ecd"/>
<rect x="412.77" y="257.39" width="19.73" height="8.46" fill="#5f5fd9"/>
<rect x="412.77" y="257.39" width="18.53" height="9.66" fill="#5f5fd9"/>
<rect x="412.77" y="257.39" width="19.73" height="9.66" fill="#5f5fd9"/>
<rect x="431.30" y="257.39" width="19.70" height="8.46" fill="#5f5fd9"/>
<rect x="431.30" y="257.39" width="18.50" height="9.66" fill="#5f5fd9"/>
<rect x="431.30" y="257.39" width="19.70" height="9.66" fill="#5f5fd9"/>
<rect x="449.80" y="257.39" width="19.70" height="8.46" fill="#c0c0c0"/>
<rect x="449.80" y="257.39" width="18.50" height="9.66" fill="#c0c0c0"/>
<rect x="449.80" y="257.39" width="19.70" height="9.66" fill="#c0c0c0"/>
<rect x="468.30" y="257.39" width="18.50" height="9.66" fill="#5f5fd9"/>
<rect x="375.70" y="265.85" width="19.73" height="8.46" fill="#8e8ecd"/>
<rect x="375.70" y="265.85" width="18.53" height="9.66" fill="#8e8ecd"/>
<rect x="375.70" y="265.85" width="19.73" height="9.66" fill="#8e8ecd"/>
<rect x="394.23" y="265.85" width="19.73" height="8.46" fill="#5f5fd9"/>
<rect x="394.23" y="265.85" width="18.53" height="9.66" fill="#5f5fd9"/>
<rect x="394.23" y="265.85" width="19.73" height="9.66" fill="#5f5fd9"/>
<rect x="412.77" y="265.85" width="19.73" height="8.46" fill="#3432e6"/>
<rect x="412.77" y="265.85" width="18.53" height="9.66" fill="#3432e6"/>
<rect x="412.77" y="265.85" width="19.73" height="9.66" fill="#3432e6"/>
<rect x="431.30" y="265.85" width="19.70" height="8.46" fill="#5f5fd9"/>
<rect x="431.30" y="265.85" width="18.50" height="9.66" fill="#5f5fd9"/>
<rect x="431.30" y="265.85" width="19.70" height="9.66" fill="#5f5fd9"/>
<rect x="449.80" y="265.85" width="19.70" height="8.46" fill="#5f5fd9"/>
<rect x="449.80" y="265.85" width="18.50" height="9.66" fill="#5f5fd9"/>
<rect x="449.80" y="265.85" width="19.70" height="9.66" fill="#5f5fd9"/>
<rect x="468.30" y="265.85" width="18.50" height="9.66" fill="#5f5fd9"/>
<rect x="375.70" y="274.31" width="19.73" height="8.46" fill="#8e8ecd"/>
<rect x="375.70" y="274.31" width="18.53" height="9.66" fill="#8e8ecd"/>
<rect x="375.70" y="274.31" width="19.73" height="9.66" fill="#8e8ecd"/>
<rect x="394.23" y="274.31" width="19.73" height="8.46" fill="#5f5fd9"/>
<rect x="394.23" y="274.31" width="18.53" height="9.66" fill="#5f5fd9"/>
<rect x="394.23" y="274.31" width="19.73" height="9.66" fill="#5f5fd9"/>
<rect x="412.77" y="274.31" width="19.73" height="8.46" fill="#5f5fd9"/>
<rect x="412.77" y="274.31" width="18.53" height="9.66" fill="#5f5fd9"/>
<rect x="412.77" y="274.31" width="19.73" height="9.66" fill="#5f5fd9"/>
<rect x="431.30" y="274.31" width="19.70" height="8.46" fill="#5f5fd9"/>
<rect x="431.30" y="274.31" width="18.50" height="9.66" fill="#5f5fd9"/>
<rect x="431.30" y="274.31" width="19.70" height="9.66" fill="#5f5fd9"/>
<rect x="449.80" y="274.31" width="19.70" height="8.46" fill="#5f5fd9"/>
<rect x="449.80" y="274.31" width="18.50" height="9.66" fill="#5f5fd9"/>
<rect x="449.80" y="274.31" width="19.70" height="9.66" fill="#5f5fd9"/>
<rect x="468.30" y="274.31" width="18.50" height="9.66" fill="#5f5fd9"/>
<rect x="375.70" y="282.76" width="19.73" height="8.46" fill="#5f5fd9"/>
<rect x="375.70" y="282.76" width="18.53" height="9.66" fill="#5f5fd9"/>
<rect x="375.70" y="282.76" width="19.73" height="9.66" fill="#5f5fd9"/>
<rect x="394.23" y="282.76" width="19.73" height="8.46" fill="#8e8ecd"/>
<rect x="394.23" y="282.76" width="18.53" height="9.66" fill="#8e8ecd"/>
<rect x="394.23" y="282.76" width="19.73" height="9.66" fill="#8e8ecd"/>
<rect x="412.77" y="282.76" width="19.73" height="8.46" fill="#5f5fd9"/>
<rect x="412.77" y="282.76" width="18.53" height="9.66" fill="#5f5fd9"/>
<rect x="412.77" y="282.76" width="19.73" height="9.66" fill="#5f5fd9"/>
<rect x="431.30" y="282.76" width="19.70" height="8.46" fill="#5f5fd9"/>
<rect x="431.30" y="282.76" width="18.50" height="9.66" fill="#5f5fd9"/>
<rect x="431.30" y="282.76" width="19.70" height="9.66" fill="#5f5fd9"/>
<rect x="449.80" y="282.76" width="19.70" height="8.46" fill="#5f5fd9"/>
<rect x="449.80" y="282.76" width="18.50" height="9.66" fill="#5f5fd9"/>
<rect x="449.80" y="282.76" width="19.70" height="9.66" fill="#5f5fd9"/>
<rect x="468.30" y="282.76" width="18.50" height="9.66" fill="#3432e6"/>
<rect x="375.70" y="291.22" width="19.73" height="8.46" fill="#5f5fd9"/>
<rect x="375.70" y="291.22" width="18.53" height="9.66" fill="#5f5fd9"/>
<rect x="375.70" y="291.22" width="19.73" height="9.66" fill="#5f5fd9"/>
<rect x="394.23" y="291.22" width="19.73" height="8.46" fill="#8e8ecd"/>
<rect x="394.23" y="291.22" width="18.53" height="9.66" fill="#8e8ecd"/>
<rect x="394.23" y="291.22" width="19.73" height="9.66" fill="#8e8ecd"/>
<rect x="412.77" y="291.22" width="19.73" height="8.46" fill="#5f5fd9"/>
<rect x="412.77" y="291.22" width="18.53" height="9.66" fill="#5f5fd9"/>
<rect x="412.77" y="291.22" width="19.73" height="9.66" fill="#5f5fd9"/>
<rect x="431.30" y="291.22" width="19.70" height="8.46" fill="#3432e6"/>
<rect x="431.30" y="291.22" width="18.50" height="9.66" fill="#3432e6"/>
<rect x="431.30" y="291.22" width="19.70" height="9.66" fill="#3432e6"/>
<rect x="449.80" y="291.22" width="19.70" height="8.46" fill="#5f5fd9"/>
<rect x="449.80" y="291.22" width="18.50" height="9.66" fill="#5f5fd9"/>
<rect x="449.80" y="291.22" width="19.70" height="9.66" fill="#5f5fd9"/>
<rect x="468.30" y="291.22" width="18.50" height="9.66" fill="#5f5fd9"/>
<rect x="375.70" y="299.68" width="19.73" height="8.46" fill="#5f5fd9"/>
<rect x="375.70" y="299.68" width="18.53" height="9.66" fill="#5f5fd9"/>
<rect x="375.70" y="299.68" width="19.73" height="9.66" fill="#5f5fd9"/>
<rect x="394.23" y="299.68" width="19.73" height="8.46" fill="#8e8ecd"/>
<rect x="394.23" y="299.68" width="18.53" height="9.66" fill="#8e8ecd"/>
<rect x="394.23" y="299.68" width="19.73" height="9.66" fill="#8e8ecd"/>
<rect x="412.77" y="299.68" width="19.73" height="8.46" fill="#5f5fd9"/>
<rect x="412.77" y="299.68" width="18.53" height="9.66" fill="#5f5fd9"/>
<rect x="412.77" y="299.68" width="19.73" height="9.66" fill="#5f5fd9"/>
<rect x="431.30" y="299.68" width="19.70" height="8.46" fill="#5f5fd9"/>
<rect x="431.30" y="299.68" width="18.50" height="9.66" fill="#5f5fd9"/>
<rect x="431.30" y="299.68" width="19.70" height="9.66" fill="#5f5fd9"/>
<rect x="449.80" y="299.68" width="19.70" height="8.46" fill="#5f5fd9"/>
<rect x="449.80" y="299.68" width="18.50" height="9.66" fill="#5f5fd9"/>
<rect x="449.80" y="299.68" width="19.70" height="9.66" fill="#5f5fd9"/>
<rect x="468.30" y="299.68" width="18.50" height="9.66" fill="#5f5fd9"/>
<rect x="375.70" y="308.14" width="19.73" height="8.46" fill="#5f5fd9"/>
<rect x="375.70" y="308.14" width="18.53" height="9.66" fill="#5f5fd9"/>
<rect x="375.70" y="308.14" width="19.73" height="9.66" fill="#5f5fd9"/>
<rect x="394.23" y="308.14" width="19.73" height="8.46" fill="#8e8ecd"/>
<rect x="394.23" y="308.14" width="18.53" height="9.66" fill="#8e8ecd"/>
<rect x="394.23" y="308.14" width="19.73" height="9.66" fill="#8e8ecd"/>
<rect x="412.77" y="308.14" width="19.73" height="8.46" fill="#5f5fd9"/>
<rect x="412.77" y="308.14" width="18.53" height="9.66" fill="#5f5fd9"/>
<rect x="431.30" y="308.14" width="19.70" height="8.46" fill="#5f5fd9"/>
<rect x="449.80" y="308.14" width="19.70" height="8.46" fill="#5f5fd9"/>
<rect x="375.70" y="316.59" width="19.73" height="8.46" fill="#5f5fd9"/>
<rect x="375.70" y="316.59" width="18.53" height="9.66" fill="#5f5fd9"/>
<rect x="375.70" y="316.59" width="19.73" height="9.66" fill="#5f5fd9"/>
<rect x="394.23" y="316.59" width="19.73" height="8.46" fill="#8e8ecd"/>
<rect x="394.23" y="316.59" width="18.53" height="9.66" fill="#8e8ecd"/>
<rect x="394.23" y="316.59" width="19.73" height="9.66" fill="#8e8ecd"/>
<rect x="412.77" y="316.59" width="18.53" height="9.66" fill="#5f5fd9"/>
<rect x="375.70" y="325.05" width="19.73" height="8.46" fill="#8e8ecd"/>
<rect x="375.70" y="325.05" width="18.53" height="9.66" fill="#8e8ecd"/>
<rect x="375.70" y="325.05" width="19.73" height="9.66" fill="#8e8ecd"/>
<rect x="394.23" y="325.05" width="19.73" height="8.46" fill="#5f5fd9"/>
<rect x="394.23" y="325.05" width="18.53" height="9.66" fill="#5f5fd9"/>
<rect x="394.23" y="325.05" width="19.73" height="9.66" fill="#5f5fd9"/>
<rect x="412.77" y="325.05" width="18.53" height="9.66" fill="#5f5fd9"/>
<rect x="375.70" y="333.51" width="19.73" height="8.46" fill="#5f5fd9"/>
<rect x="375.70" y="333.51" width="18.53" height="9.66" fill="#5f5fd9"/>
<rect x="375.70" y="333.51" width="19.73" height="9.66" fill="#5f5fd9"/>
<rect x="394.23" y="333.51" width="19.73" height="8.46" fill="#8e8ecd"/>
<rect x="394.23" y="333.51" width="18.53" height="9.66" fill="#8e8ecd"/>
<rect x="394.23" y="333.51" width="19.73" height="9.66" fill="#8e8ecd"/>
<rect x="412.77" y="333.51" width="19.73" height="8.46" fill="#8e8ecd"/>
<rect x="412.77" y="333.51" width="18.53" height="9.66" fill="#8e8ecd"/>
<rect x="412.77" y="333.51" width="19.73" height="9.66" fill="#8e8ecd"/>
<rect x="431.30" y="333.51" width="19.70" height="8.46" fill="#5f5fd9"/>
<rect x="431.30" y="333.51" width="18.50" height="9.66" fill="#5f5fd9"/>
<rect x="431.30" y="333.51" width="19.70" height="9.66" fill="#5f5fd9"/>
<rect x="449.80" y="333.51" width="19.70" height="8.46" fill="#5f5fd9"/>
<rect x="449.80" y="333.51" width="18.50" height="9.66" fill="#5f5fd9"/>
<rect x="449.80" y="333.51" width="19.70" height="9.66" fill="#5f5fd9"/>
<rect x="468.30" y="333.51" width="18.50" height="9.66" fill="#8e8ecd"/>
<rect x="375.70" y="341.97" width="19.73" height="8.46" fill="#8e8ecd"/>
<rect x="375.70" y="341.97" width="18.53" height="9.66" fill="#8e8ecd"/>
<rect x="375.70" y="341.97" width="19.73" height="9.66" fill="#8e8ecd"/>
<rect x="394.23" y="341.97" width="19.73" height="8.46" fill="#8e8ecd"/>
<rect x="394.23" y="341.97" width="18.53" height="9.66" fill="#8e8ecd"/>
<rect x="394.23" y="341.97" width="19.73" height="9.66" fill="#8e8ecd"/>
<rect x="412.77" y="341.97" width="19.73" height="8.46" fill="#5f5fd9"/>
<rect x="412.77" y="341.97" width="18.53" height="9.66" fill="#5f5fd9"/>
<rect x="412.77" y="341.97" width="19.73" height="9.66" fill="#5f5fd9"/>
<rect x="431.30" y="341.97" width="19.70" height="8.46" fill="#8e8ecd"/>
<rect x="431.30" y="341.97" width="18.50" height="9.66" fill="#8e8ecd"/>
<rect x="431.30" y="341.97" width="19.70" height="9.66" fill="#8e8ecd"/>
<rect x="449.80" y="341.97" width="19.70" height="8.46" fill="#8e8ecd"/>
<rect x="449.80" y="341.97" width="18.50" height="9.66" fill="#8e8ecd"/>
<rect x="449.80" y="341.97" width="19.70" height="9.66" fill="#8e8ecd"/>
<rect x="468.30" y="341.97" width="18.50" height="9.66" fill="#5f5fd9"/>
<rect x="375.70" y="350.43" width="19.73" height="8.46" fill="#8e8ecd"/>
<rect x="375.70" y="350.43" width="18.53" height="9.66" fill="#8e8ecd"/>
<rect x="375.70" y="350.43" width="19.73" height="9.66" fill="#8e8ecd"/>
<rect x="394.23" y="350.43" width="19.73" height="8.46" fill="#8e8ecd"/>
<rect x="394.23" y="350.43" width="18.53" height="9.66" fill="#8e8ecd"/>
<rect x="394.23" y="350.43" width="19.73" height="9.66" fill="#8e8ecd"/>
<rect x="412.77" y="350.43" width="19.73" height="8.46" fill="#5f5fd9"/>
<rect x="412.77" y="350.43" width="18.53" height="9.66" fill="#5f5fd9"/>
<rect x="412.77" y="350.43" width="19.73" height="9.66" fill="#5f5fd9"/>
<rect x="431.30" y="350.43" width="19.70" height="8.46" fill="#8e8ecd"/>
<rect x="431.30" y="350.43" width="18.50" height="9.66" fill="#8e8ecd"/>
<rect x="431.30" y="350.43" width="19.70" height="9.66" fill="#8e8ecd"/>
<rect x="449.80" y="350.43" width="19.70" height="8.46" fill="#8e8ecd"/>
<rect x="449.80" y="350.43" width="18.50" height="9.66" fill="#8e8ecd"/>
<rect x="449.80" y="350.43" width="19.70" height="9.66" fill="#8e8ecd"/>
<rect x="468.30" y="350.43" width="18.50" height="9.66" fill="#5f5fd9"/>
<rect x="375.70" y="358.88" width="19.73" height="8.46" fill="#8e8ecd"/>
<rect x="375.70" y="358.88" width="18.53" height="9.66" fill="#8e8ecd"/>
<rect x="375.70" y="358.88" width="19.73" height="9.66" fill="#8e8ecd"/>
<rect x="394.23" y="358.88" width="19.73" height="8.46" fill="#8e8ecd"/>
<rect x="394.23" y="358.88" width="18.53" height="9.66" fill="#8e8ecd"/>
<rect x="394.23" y="358.88" width="19.73" height="9.66" fill="#8e8ecd"/>
<rect x="412.77" y="358.88" width="19.73" height="8.46" fill="#8e8ecd"/>
<rect x="412.77" y="358.88" width="18.53" height="9.66" fill="#8e8ecd"/>
<rect x="412.77" y="358.88" width="19.73" height="9.66" fill="#8e8ecd"/>
<rect x="431.30" y="358.88" width="19.70" height="8.46" fill="#8e8ecd"/>
<rect x="431.30" y="358.88" width="18.50" height="9.66" fill="#8e8ecd"/>
<rect x="431.30" y="358.88" width="19.70" height="9.66" fill="#8e8ecd"/>
<rect x="449.80" y="358.88" width="19.70" height="8.46" fill="#5f5fd9"/>
<rect x="449.80" y="358.88" width="18.50" height="9.66" fill="#5f5fd9"/>
<rect x="449.80" y="358.88" width="19.70" height="9.66" fill="#5f5fd9"/>
<rect x="468.30" y="358.88" width="18.50" height="9.66" fill="#5f5fd9"/>
<rect x="375.70" y="367.34" width="19.73" height="8.46" fill="#8e8ecd"/>
<rect x="375.70" y="367.34" width="18.53" height="9.66" fill="#8e8ecd"/>
<rect x="375.70" y="367.34" width="19.73" height="9.66" fill="#8e8ecd"/>
<rect x="394.23" y="367.34" width="19.73" height="8.46" fill="#8e8ecd"/>
<rect x="394.23" y="367.34" width="18.53" height="9.66" fill="#8e8ecd"/>
<rect x="394.23" y="367.34" width="19.73" height="9.66" fill="#8e8ecd"/>
<rect x="412.77" y="367.34" width="19.73" height="8.46" fill="#5f5fd9"/>
<rect x="412.77" y="367.34" width="18.53" height="9.66" fill="#5f5fd9"/>
<rect x="412.77" y="367.34" width="19.73" height="9.66" fill="#5f5fd9"/>
<rect x="431.30" y="367.34" width="19.70" height="8.46" fill="#5f5fd9"/>
<rect x="431.30" y="367.34" width="18.50" height="9.66" fill="#5f5fd9"/>
<rect x="431.30" y="367.34" width="19.70" height="9.66" fill="#5f5fd9"/>
<rect x="449.80" y="367.34" width="19.70" height="8.46" fill="#5f5fd9"/>
<rect x="449.80" y="367.34" width="18.50" height="9.66" fill="#5f5fd9"/>
<rect x="449.80" y="367.34" width="19.70" height="9.66" fill="#5f5fd9"/>
<rect x="468.30" y="367.34" width="18.50" height="9.66" fill="#5f5fd9"/>
<rect x="375.70" y="375.80" width="19.73" height="8.46" fill="#8e8ecd"/>
<rect x="375.70" y="375.80" width="18.53" height="9.66" fill="#8e8ecd"/>
<rect x="375.70" y="375.80" width="19.73" height="9.66" fill="#8e8ecd"/>
<rect x="394.23" y="375.80" width="19.73" height="8.46" fill="#8e8ecd"/>
<rect x="394.23" y="375.80" width="18.53" height="9.66" fill="#8e8ecd"/>
<rect x="394.23" y="375.80" width="19.73" height="9.66" fill="#8e8ecd"/>
<rect x="412.77" y="375.80" width="19.73" height="8.46" fill="#5f5fd9"/>
<rect x="412.77" y="375.80" width="18.53" height="9.66" fill="#5f5fd9"/>
<rect x="412.77" y="375.80" width="19.73" height="9.66" fill="#5f5fd9"/>
<rect x="431.30" y="375.80" width="19.70" height="8.46" fill="#8e8ecd"/>
<rect x="431.30" y="375.80" width="18.50" height="9.66" fill="#8e8ecd"/>
<rect x="431.30" y="375.80" width="19.70" height="9.66" fill="#8e8ecd"/>
<rect x="449.80" y="375.80" width="19.70" height="8.46" fill="#8e8ecd"/>
<rect x="449.80" y="375.80" width="18.50" height="9.66" fill="#8e8ecd"/>
<rect x="449.80" y="375.80" width="19.70" height="9.66" fill="#8e8ecd"/>
<rect x="468.30" y="375.80" width="18.50" height="9.66" fill="#8e8ecd"/>
<rect x="375.70" y="384.26" width="19.73" height="8.46" fill="#8e8ecd"/>
<rect x="375.70" y="384.26" width="18.53" height="9.66" fill="#8e8ecd"/>
<rect x="375.70" y="384.26" width="19.73" height="9.66" fill="#8e8ecd"/>
<rect x="394.23" y="384.26" width="19.73" height="8.46" fill="#c0c0c0"/>
<rect x="394.23" y="384.26" width="18.53" height="9.66" fill="#c0c0c0"/>
<rect x="394.23" y="384.26" width="19.73" height="9.66" fill="#c0c0c0"/>
<rect x="412.77" y="384.26" width="19.73" height="8.46" fill="#5f5fd9"/>
<rect x="412.77" y="384.26" width="18.53" height="9.66" fill="#5f5fd9"/>
<rect x="431.30" y="384.26" width="19.70" height="8.46" fill="#8e8ecd"/>
<rect x="449.80" y="384.26" width="19.70" height="8.46" fill="#8e8ecd"/>
<rect x="375.70" y="392.72" width="19.73" height="8.46" fill="#8e8ecd"/>
<rect x="394.23" y="392.72" width="19.73" height="8.46" fill="#c0c0c0"/>
<rect x="431.30" y="401.17" width="19.70" height="8.46" fill="#3432e6"/>
<rect x="431.30" y="401.17" width="18.50" height="9.66" fill="#3432e6"/>
<rect x="431.30" y="401.17" width="19.70" height="9.66" fill="#3432e6"/>
<rect x="449.80" y="401.17" width="19.70" height="8.46" fill="#3432e6"/>
<rect x="449.80" y="401.17" width="18.50" height="9.66" fill="#3432e6"/>
<rect x="449.80" y="401.17" width="19.70" height="9.66" fill="#3432e6"/>
<rect x="468.30" y="401.17" width="18.50" height="9.66" fill="#1f3bf7"/>
<rect x="431.30" y="409.63" width="19.70" height="8.46" fill="#3432e6"/>
<rect x="431.30" y="409.63" width="18.50" height="9.66" fill="#3432e6"/>
<rect x="431.30" y="409.63" width="19.70" height="9.66" fill="#3432e6"/>
<rect x="449.80" y="409.63" width="19.70" height="8.46" fill="#3432e6"/>
<rect x="449.80" y="409.63" width="18.50" height="9.66" fill="#3432e6"/>
<rect x="449.80" y="409.63" width="19.70" height="9.66" fill="#3432e6"/>
<rect x="468.30" y="409.63" width="18.50" height="9.66" fill="#1f3bf7"/>
<rect x="431.30" y="418.09" width="19.70" height="8.46" fill="#3432e6"/>
<rect x="431.30" y="418.09" width="18.50" height="9.66" fill="#3432e6"/>
<rect x="431.30" y="418.09" width="19.70" height="9.66" fill="#3432e6"/>
<rect x="449.80" y="418.09" width="19.70" height="8.46" fill="#3432e6"/>
<rect x="449.80" y="418.09" width="18.50" height="9.66" fill="#3432e6"/>
<rect x="449.80" y="418.09" width="19.70" height="9.66" fill="#3432e6"/>
<rect x="468.30" y="418.09" width="18.50" height="9.66" fill="#3432e6"/>
<rect x="431.30" y="426.55" width="19.70" height="8.46" fill="#3432e6"/>
<rect x="431.30" y="426.55" width="18.50" height="9.66" fill="#3432e6"/>
<rect x="431.30" y="426.55" width="19.70" height="9.66" fill="#3432e6"/>
<rect x="449.80" y="426.55" width="19.70" height="8.46" fill="#3432e6"/>
<rect x="449.80" y="426.55" width="18.50" height="9.66" fill="#3432e6"/>
<rect x="449.80" y="426.55" width="19.70" height="9.66" fill="#3432e6"/>
<rect x="468.30" y="426.55" width="18.50" height="9.66" fill="#3432e6"/>
<rect x="431.30" y="435.01" width="19.70" height="8.46" fill="#3432e6"/>
<rect x="431.30" y="435.01" width="18.50" height="9.66" fill="#3432e6"/>
<rect x="431.30" y="435.01" width="19.70" height="9.66" fill="#3432e6"/>
<rect x="449.80" y="435.01" width="19.70" height="8.46" fill="#5f5fd9"/>
<rect x="449.80" y="435.01" width="18.50" height="9.66" fill="#5f5fd9"/>
<rect x="449.80" y="435.01" width="19.70" height="9.66" fill="#5f5fd9"/>
<rect x="468.30" y="435.01" width="18.50" height="9.66" fill="#3432e6"/>
<rect x="431.30" y="443.46" width="19.70" height="8.46" fill="#3432e6"/>
<rect x="431.30" y="443.46" width="18.50" height="9.66" fill="#3432e6"/>
<rect x="431.30" y="443.46" width="19.70" height="9.66" fill="#3432e6"/>
<rect x="449.80" y="443.46" width="19.70" height="8.46" fill="#3432e6"/>
<rect x="449.80" y="443.46" width="18.50" height="9.66" fill="#3432e6"/>
<rect x="449.80" y="443.46" width="19.70" height="9.66" fill="#3432e6"/>
<rect x="468.30" y="443.46" width="18.50" height="9.66" fill="#3432e6"/>
<rect x="431.30" y="451.92" width="19.70" height="8.46" fill="#5f5fd9"/>
<rect x="431.30" y="451.92" width="18.50" height="9.66" fill="#5f5fd9"/>
<rect x="431.30" y="451.92" width="19.70" height="9.66" fill="#5f5fd9"/>
<rect x="449.80" y="451.92" width="19.70" height="8.46" fill="#3432e6"/>
<rect x="449.80" y="451.92" width="18.50" height="9.66" fill="#3432e6"/>
<rect x="449.80" y="451.92" width="19.70" height="9.66" fill="#3432e6"/>
<rect x="468.30" y="451.92" width="18.50" height="9.66" fill="#3432e6"/>
<rect x="431.30" y="460.38" width="19.70" height="8.46" fill="#5f5fd9"/>
<rect x="431.30" y="460.38" width="18.50" height="9.66" fill="#5f5fd9"/>
<rect x="431.30" y="460.38" width="19.70" height="9.66" fill="#5f5fd9"/>
<rect x="449.80" y="460.38" width="19.70" height="8.46" fill="#3432e6"/>
<rect x="449.80" y="460.38" width="18.50" height="9.66" fill="#3432e6"/>
<rect x="449.80" y="460.38" width="19.70" height="9.66" fill="#3432e6"/>
<rect x="468.30" y="460.38" width="18.50" height="9.66" fill="#3432e6"/>
<rect x="431.30" y="468.84" width="19.70" height="8.46" fill="#5f5fd9"/>
<rect x="431.30" y="468.84" width="18.50" height="9.66" fill="#5f5fd9"/>
<rect x="431.30" y="468.84" width="19.70" height="9.66" fill="#5f5fd9"/>
<rect x="449.80" y="468.84" width="19.70" height="8.46" fill="#5f5fd9"/>
<rect x="449.80" y="468.84" width="18.50" height="9.66" fill="#5f5fd9"/>
<rect x="449.80" y="468.84" width="19.70" height="9.66" fill="#5f5fd9"/>
<rect x="468.30" y="468.84" width="18.50" height="9.66" fill="#3432e6"/>
<rect x="431.30" y="477.29" width="19.70" height="8.46" fill="#8e8ecd"/>
<rect x="431.30" y="477.29" width="18.50" height="9.66" fill="#8e8ecd"/>
<rect x="431.30" y="477.29" width="19.70" height="9.66" fill="#8e8ecd"/>
<rect x="449.80" y="477.29" width="19.70" height="8.46" fill="#8e8ecd"/>
<rect x="449.80" y="477.29" width="18.50" height="9.66" fill="#8e8ecd"/>
<rect x="449.80" y="477.29" width="19.70" height="9.66" fill="#8e8ecd"/>
<rect x="468.30" y="477.29" width="18.50" height="9.66" fill="#3432e6"/>
<rect x="431.30" y="485.75" width="19.70" height="8.46" fill="#5f5fd9"/>
<rect x="431.30" y="485.75" width="18.50" height="9.66" fill="#5f5fd9"/>
<rect x="431.30" y="485.75" width="19.70" height="9.66" fill="#5f5fd9"/>
<rect x="449.80" y="485.75" width="19.70" height="8.46" fill="#8e8ecd"/>
<rect x="449.80" y="485.75" width="18.50" height="9.66" fill="#8e8ecd"/>
<rect x="449.80" y="485.75" width="19.70" height="9.66" fill="#8e8ecd"/>
<rect x="468.30" y="485.75" width="18.50" height="9.66" fill="#5f5fd9"/>
<rect x="431.30" y="494.21" width="19.70" height="8.46" fill="#5f5fd9"/>
<rect x="431.30" y="494.21" width="18.50" height="9.66" fill="#5f5fd9"/>
<rect x="431.30" y="494.21" width="19.70" height="9.66" fill="#5f5fd9"/>
<rect x="449.80" y="494.21" width="19.70" height="8.46" fill="#8e8ecd"/>
<rect x="449.80" y="494.21" width="18.50" height="9.66" fill="#8e8ecd"/>
<rect x="449.80" y="494.21" width="19.70" height="9.66" fill="#8e8ecd"/>
<rect x="468.30" y="494.21" width="18.50" height="9.66" fill="#5f5fd9"/>
<rect x="431.30" y="502.67" width="19.70" height="8.46" fill="#8e8ecd"/>
<rect x="431.30" y="502.67" width="18.50" height="9.66" fill="#8e8ecd"/>
<rect x="431.30" y="502.67" width="19.70" height="9.66" fill="#8e8ecd"/>
<rect x="449.80" y="502.67" width="19.70" height="8.46" fill="#8e8ecd"/>
<rect x="449.80" y="502.67" width="18.50" height="9.66" fill="#8e8ecd"/>
<rect x="449.80" y="502.67" width="19.70" height="9.66" fill="#8e8ecd"/>
<rect x="468.30" y="502.67" width="18.50" height="9.66" fill="#5f5fd9"/>
<rect x="431.30" y="511.13" width="19.70" height="8.46" fill="#8e8ecd"/>
<rect x="431.30" y="511.13" width="18.50" height="9.66" fill="#8e8ecd"/>
<rect x="431.30" y="511.13" width="19.70" height="9.66" fill="#8e8ecd"/>
<rect x="449.80" y="511.13" width="19.70" height="8.46" fill="#5f5fd9"/>
<rect x="449.80" y="511.13" width="18.50" height="9.66" fill="#5f5fd9"/>
<rect x="449.80" y="511.13" width="19.70" height="9.66" fill="#5f5fd9"/>
<rect x="468.30" y="511.13" width="18.50" height="9.66" fill="#5f5fd9"/>
<rect x="431.30" y="519.58" width="19.70" height="8.46" fill="#8e8ecd"/>
<rect x="431.30" y="519.58" width="18.50" height="9.66" fill="#8e8ecd"/>
<rect x="431.30" y="519.58" width="19.70" height="9.66" fill="#8e8ecd"/>
<rect x="449.80" y="519.58" width="19.70" height="8.46" fill="#8e8ecd"/>
<rect x="449.80" y="519.58" width="18.50" height="9.66" fill="#8e8ecd"/>
<rect x="449.80" y="519.58" width="19.70" height="9.66" fill="#8e8ecd"/>
<rect x="468.30" y="519.58" width="18.50" height="9.66" fill="#8e8ecd"/>
<rect x="431.30" y="528.04" width="19.70" height="8.46" fill="#8e8ecd"/>
<rect x="449.80" y="528.04" width="19.70" height="8.46" fill="#c0c0c0"/>
<rect x="375.70" y="54.40" width="18.53" height="8.46" fill="#3432e6"/>
<rect x="394.23" y="54.40" width="18.53" height="8.46" fill="#3432e6"/>
<rect x="412.77" y="54.40" width="18.53" height="8.46" fill="#1f3bf7"/>
<rect x="375.70" y="62.86" width="18.53" height="8.46" fill="#1f3bf7"/>
<rect x="394.23" y="62.86" width="18.53" height="8.46" fill="#1f3bf7"/>
<rect x="412.77" y="62.86" width="18.53" height="8.46" fill="#8e8ecd"/>
<rect x="431.30" y="62.86" width="18.50" height="8.46" fill="#1f3bf7"/>
<rect x="449.80" y="62.86" width="18.50" height="8.46" fill="#3432e6"/>
<rect x="468.30" y="62.86" width="18.50" height="8.46" fill="#8e8ecd"/>
<rect x="375.70" y="71.32" width="18.53" height="8.46" fill="#3432e6"/>
<rect x="394.23" y="71.32" width="18.53" height="8.46" fill="#3432e6"/>
<rect x="412.77" y="71.32" width="18.53" height="8.46" fill="#1f3bf7"/>
<rect x="431.30" y="71.32" width="18.50" height="8.46" fill="#1f3bf7"/>
<rect x="449.80" y="71.32" width="18.50" height="8.46" fill="#3432e6"/>
<rect x="468.30" y="71.32" width="18.50" height="8.46" fill="#1f3bf7"/>
<rect x="375.70" y="79.77" width="18.53" height="8.46" fill="#5f5fd9"/>
<rect x="394.23" y="79.77" width="18.53" height="8.46" fill="#3432e6"/>
<rect x="412.77" y="79.77" width="18.53" height="8.46" fill="#3432e6"/>
<rect x="431.30" y="79.77" width="18.50" height="8.46" fill="#5f5fd9"/>
<rect x="449.80" y="79.77" width="18.50" height="8.46" fill="#1f3bf7"/>
<rect x="468.30" y="79.77" width="18.50" height="8.46" fill="#3432e6"/>
<rect x="375.70" y="88.23" width="18.53" height="8.46" fill="#1f3bf7"/>
<rect x="394.23" y="88.23" width="18.53" height="8.46" fill="#3432e6"/>
<rect x="412.77" y="88.23" width="18.53" height="8.46" fill="#8e8ecd"/>
<rect x="375.70" y="96.69" width="18.53" height="8.46" fill="#3432e6"/>
<rect x="394.23" y="96.69" width="18.53" height="8.46" fill="#3432e6"/>
<rect x="412.77" y="96.69" width="18.53" height="8.46" fill="#3432e6"/>
<rect x="431.30" y="96.69" width="18.50" height="8.46" fill="#5f5fd9"/>
<rect x="449.80" y="96.69" width="18.50" height="8.46" fill="#3432e6"/>
<rect x="468.30" y="96.69" width="18.50" height="8.46" fill="#3432e6"/>
<rect x="375.70" y="105.15" width="18.53" height="8.46" fill="#3432e6"/>
<rect x="394.23" y="105.15" width="18.53" height="8.46" fill="#3432e6"/>
<rect x="412.77" y="105.15" width="18.53" height="8.46" fill="#3432e6"/>
<rect x="375.70" y="113.61" width="18.53" height="8.46" fill="#3432e6"/>
<rect x="394.23" y="113.61" width="18.53" height="8.46" fill="#5f5fd9"/>
<rect x="412.77" y="113.61" width="18.53" height="8.46" fill="#3432e6"/>
<rect x="375.70" y="122.06" width="18.53" height="8.46" fill="#3432e6"/>
<rect x="394.23" y="122.06" width="18.53" height="8.46" fill="#3432e6"/>
<rect x="412.77" y="122.06" width="18.53" height="8.46" fill="#5f5fd9"/>
<rect x="375.70" y="130.52" width="18.53" height="8.46" fill="#3432e6"/>
<rect x="394.23" y="130.52" width="18.53" height="8.46" fill="#3432e6"/>
<rect x="412.77" y="130.52" width="18.53" height="8.46" fill="#3432e6"/>
<rect x="431.30" y="130.52" width="18.50" height="8.46" fill="#3432e6"/>
<rect x="449.80" y="130.52" width="18.50" height="8.46" fill="#3432e6"/>
<rect x="468.30" y="130.52" width="18.50" height="8.46" fill="#3432e6"/>
<rect x="375.70" y="138.98" width="18.53" height="8.46" fill="#8e8ecd"/>
<rect x="394.23" y="138.98" width="18.53" height="8.46" fill="#3432e6"/>
<rect x="412.77" y="138.98" width="18.53" height="8.46" fill="#3432e6"/>
<rect x="431.30" y="138.98" width="18.50" height="8.46" fill="#5f5fd9"/>
<rect x="449.80" y="138.98" width="18.50" height="8.46" fill="#3432e6"/>
<rect x="468.30" y="138.98" width="18.50" height="8.46" fill="#1f3bf7"/>
<rect x="375.70" y="147.44" width="18.53" height="8.46" fill="#3432e6"/>
<rect x="394.23" y="147.44" width="18.53" height="8.46" fill="#3432e6"/>
<rect x="412.77" y="147.44" width="18.53" height="8.46" fill="#3432e6"/>
<rect x="431.30" y="147.44" width="18.50" height="8.46" fill="#5f5fd9"/>
<rect x="449.80" y="147.44" width="18.50" height="8.46" fill="#3432e6"/>
<rect x="468.30" y="147.44" width="18.50" height="8.46" fill="#5f5fd9"/>
<rect x="375.70" y="155.89" width="18.53" height="8.46" fill="#3432e6"/>
<rect x="394.23" y="155.89" width="18.53" height="8.46" fill="#5f5fd9"/>
<rect x="412.77" y="155.89" width="18.53" height="8.46" fill="#3432e6"/>
<rect x="431.30" y="155.89" width="18.50" height="8.46" fill="#3432e6"/>
<rect x="449.80" y="155.89" width="18.50" height="8.46" fill="#5f5fd9"/>
<rect x="468.30" y="155.89" width="18.50" height="8.46" fill="#5f5fd9"/>
<rect x="375.70" y="164.35" width="18.53" height="8.46" fill="#3432e6"/>
<rect x="394.23" y="164.35" width="18.53" height="8.46" fill="#5f5fd9"/>
<rect x="412.77" y="164.35" width="18.53" height="8.46" fill="#3432e6"/>
<rect x="431.30" y="164.35" width="18.50" height="8.46" fill="#5f5fd9"/>
<rect x="449.80" y="164.35" width="18.50" height="8.46" fill="#8e8ecd"/>
<rect x="468.30" y="164.35" width="18.50" height="8.46" fill="#3432e6"/>
<rect x="375.70" y="172.81" width="18.53" height="8.46" fill="#5f5fd9"/>
<rect x="394.23" y="172.81" width="18.53" height="8.46" fill="#3432e6"/>
<rect x="412.77" y="172.81" width="18.53" height="8.46" fill="#3432e6"/>
<rect x="375.70" y="181.27" width="18.53" height="8.46" fill="#5f5fd9"/>
<rect x="394.23" y="181.27" width="18.53" height="8.46" fill="#5f5fd9"/>
<rect x="412.77" y="181.27" width="18.53" height="8.46" fill="#3432e6"/>
<rect x="431.30" y="181.27" width="18.50" height="8.46" fill="#3432e6"/>
<rect x="449.80" y="181.27" width="18.50" height="8.46" fill="#3432e6"/>
<rect x="468.30" y="181.27" width="18.50" height="8.46" fill="#1f3bf7"/>
<rect x="375.70" y="189.73" width="18.53" height="8.46" fill="#5f5fd9"/>
<rect x="394.23" y="189.73" width="18.53" height="8.46" fill="#5f5fd9"/>
<rect x="412.77" y="189.73" width="18.53" height="8.46" fill="#3432e6"/>
<rect x="431.30" y="189.73" width="18.50" height="8.46" fill="#5f5fd9"/>
<rect x="449.80" y="189.73" width="18.50" height="8.46" fill="#5f5fd9"/>
<rect x="468.30" y="189.73" width="18.50" height="8.46" fill="#5f5fd9"/>
<rect x="375.70" y="198.18" width="18.53" height="8.46" fill="#5f5fd9"/>
<rect x="394.23" y="198.18" width="18.53" height="8.46" fill="#5f5fd9"/>
<rect x="412.77" y="198.18" width="18.53" height="8.46" fill="#3432e6"/>
<rect x="431.30" y="198.18" width="18.50" height="8.46" fill="#5f5fd9"/>
<rect x="449.80" y="198.18" width="18.50" height="8.46" fill="#5f5fd9"/>
<rect x="468.30" y="198.18" width="18.50" height="8.46" fill="#3432e6"/>
<rect x="375.70" y="206.64" width="18.53" height="8.46" fill="#5f5fd9"/>
<rect x="394.23" y="206.64" width="18.53" height="8.46" fill="#5f5fd9"/>
<rect x="412.77" y="206.64" width="18.53" height="8.46" fill="#3432e6"/>
<rect x="431.30" y="206.64" width="18.50" height="8.46" fill="#3432e6"/>
<rect x="449.80" y="206.64" width="18.50" height="8.46" fill="#3432e6"/>
<rect x="468.30" y="206.64" width="18.50" height="8.46" fill="#3432e6"/>
<rect x="375.70" y="215.10" width="18.53" height="8.46" fill="#5f5fd9"/>
<rect x="394.23" y="215.10" width="18.53" height="8.46" fill="#3432e6"/>
<rect x="412.77" y="215.10" width="18.53" height="8.46" fill="#5f5fd9"/>
<rect x="431.30" y="215.10" width="18.50" height="8.46" fill="#5f5fd9"/>
<rect x="449.80" y="215.10" width="18.50" height="8.46" fill="#5f5fd9"/>
<rect x="468.30" y="215.10" width="18.50" height="8.46" fill="#3432e6"/>
<rect x="375.70" y="223.56" width="18.53" height="8.46" fill="#5f5fd9"/>
<rect x="394.23" y="223.56" width="18.53" height="8.46" fill="#5f5fd9"/>
<rect x="412.77" y="223.56" width="18.53" height="8.46" fill="#5f5fd9"/>
<rect x="431.30" y="223.56" width="18.50" height="8.46" fill="#5f5fd9"/>
<rect x="449.80" y="223.56" width="18.50" height="8.46" fill="#3432e6"/>
<rect x="468.30" y="223.56" width="18.50" height="8.46" fill="#5f5fd9"/>
<rect x="375.70" y="232.02" width="18.53" height="8.46" fill="#8e8ecd"/>
<rect x="394.23" y="232.02" width="18.53" height="8.46" fill="#5f5fd9"/>
<rect x="412.77" y="232.02" width="18.53" height="8.46" fill="#5f5fd9"/>
<rect x="375.70" y="240.47" width="18.53" height="8.46" fill="#5f5fd9"/>
<rect x="394.23" y="240.47" width="18.53" height="8.46" fill="#3432e6"/>
<rect x="412.77" y="240.47" width="18.53" height="8.46" fill="#8e8ecd"/>
<rect x="375.70" y="248.93" width="18.53" height="8.46" fill="#5f5fd9"/>
<rect x="394.23" y="248.93" width="18.53" height="8.46" fill="#5f5fd9"/>
<rect x="412.77" y="248.93" width="18.53" height="8.46" fill="#5f5fd9"/>
<rect x="375.70" y="257.39" width="18.53" height="8.46" fill="#5f5fd9"/>
<rect x="394.23" y="257.39" width="18.53" height="8.46" fill="#8e8ecd"/>
<rect x="412.77" y="257.39" width="18.53" height="8.46" fill="#5f5fd9"/>
<rect x="431.30" y="257.39" width="18.50" height="8.46" fill="#5f5fd9"/>
<rect x="449.80" y="257.39" width="18.50" height="8.46" fill="#c0c0c0"/>
<rect x="468.30" y="257.39" width="18.50" height="8.46" fill="#5f5fd9"/>
<rect x="375.70" y="265.85" width="18.53" height="8.46" fill="#8e8ecd"/>
<rect x="394.23" y="265.85" width="18.53" height="8.46" fill="#5f5fd9"/>
<rect x="412.77" y="265.85" width="18.53" height="8.46" fill="#3432e6"/>
<rect x="431.30" y="265.85" width="18.50" height="8.46" fill="#5f5fd9"/>
<rect x="449.80" y="265.85" width="18.50" height="8.46" fill="#5f5fd9"/>
<rect x="468.30" y="265.85" width="18.50" height="8.46" fill="#5f5fd9"/>
<rect x="375.70" y="274.31" width="18.53" height="8.46" fill="#8e8ecd"/>
<rect x="394.23" y="274.31" width="18.53" height="8.46" fill="#5f5fd9"/>
<rect x="412.77" y="274.31" width="18.53" height="8.46" fill="#5f5fd9"/>
<rect x="431.30" y="274.31" width="18.50" height="8.46" fill="#5f5fd9"/>
<rect x="449.80" y="274.31" width="18.50" height="8.46" fill="#5f5fd9"/>
<rect x="468.30" y="274.31" width="18.50" height="8.46" fill="#5f5fd9"/>
<rect x="375.70" y="282.76" width="18.53" height="8.46" fill="#5f5fd9"/>
<rect x="394.23" y="282.76" width="18.53" height="8.46" fill="#8e8ecd"/>
<rect x="412.77" y="282.76" width="18.53" height="8.46" fill="#5f5fd9"/>
<rect x="431.30" y="282.76" width="18.50" height="8.46" fill="#5f5fd9"/>
<rect x="449.80" y="282.76" width="18.50" height="8.46" fill="#5f5fd9"/>
<rect x="468.30" y="282.76" width="18.50" height="8.46" fill="#3432e6"/>
<rect x="375.70" y="291.22" width="18.53" height="8.46" fill="#5f5fd9"/>
<rect x="394.23" y="291.22" width="18.53" height="8.46" fill="#8e8ecd"/>
<rect x="412.77" y="291.22" width="18.53" height="8.46" fill="#5f5fd9"/>
<rect x="431.30" y="291.22" width="18.50" height="8.46" fill="#3432e6"/>
<rect x="449.80" y="291.22" width="18.50" height="8.46" fill="#5f5fd9"/>
<rect x="468.30" y="291.22" width="18.50" height="8.46" fill="#5f5fd9"/>
<rect x="375.70" y="299.68" width="18.53" height="8.46" fill="#5f5fd9"/>
<rect x="394.23" y="299.68" width="18.53" height="8.46" fill="#8e8ecd"/>
<rect x="412.77" y="299.68" width="18.53" height="8.46" fill="#5f5fd9"/>
<rect x="431.30" y="299.68" width="18.50" height="8.46" fill="#5f5fd9"/>
<rect x="449.80" y="299.68" width="18.50" height="8.46" fill="#5f5fd9"/>
<rect x="468.30" y="299.68" width="18.50" height="8.46" fill="#5f5fd9"/>
<rect x="375.70" y="308.14" width="18.53" height="8.46" fill="#5f5fd9"/>
<rect x="394.23" y="308.14" width="18.53" height="8.46" fill="#8e8ecd"/>
<rect x="412.77" y="308.14" width="18.53" height="8.46" fill="#5f5fd9"/>
<rect x="431.30" y="308.14" width="18.50" height="8.46" fill="#5f5fd9"/>
<rect x="449.80" y="308.14" width="18.50" height="8.46" fill="#5f5fd9"/>
<rect x="468.30" y="308.14" width="18.50" height="8.46" fill="#3432e6"/>
<rect x="375.70" y="316.59" width="18.53" height="8.46" fill="#5f5fd9"/>
<rect x="394.23" y="316.59" width="18.53" height="8.46" fill="#8e8ecd"/>
<rect x="412.77" y="316.59" width="18.53" height="8.46" fill="#5f5fd9"/>
<rect x="375.70" y="325.05" width="18.53" height="8.46" fill="#8e8ecd"/>
<rect x="394.23" y="325.05" width="18.53" height="8.46" fill="#5f5fd9"/>
<rect x="412.77" y="325.05" width="18.53" height="8.46" fill="#5f5fd9"/>
<rect x="375.70" y="333.51" width="18.53" height="8.46" fill="#5f5fd9"/>
<rect x="394.23" y="333.51" width="18.53" height="8.46" fill="#8e8ecd"/>
<rect x="412.77" y="333.51" width="18.53" height="8.46" fill="#8e8ecd"/>
<rect x="431.30" y="333.51" width="18.50" height="8.46" fill="#5f5fd9"/>
<rect x="449.80" y="333.51" width="18.50" height="8.46" fill="#5f5fd9"/>
<rect x="468.30" y="333.51" width="18.50" height="8.46" fill="#8e8ecd"/>
<rect x="375.70" y="341.97" width="18.53" height="8.46" fill="#8e8ecd"/>
<rect x="394.23" y="341.97" width="18.53" height="8.46" fill="#8e8ecd"/>
<rect x="412.77" y="341.97" width="18.53" height="8.46" fill="#5f5fd9"/>
<rect x="431.30" y="341.97" width="18.50" height="8.46" fill="#8e8ecd"/>
<rect x="449.80" y="341.97" width="18.50" height="8.46" fill="#8e8ecd"/>
<rect x="468.30" y="341.97" width="18.50" height="8.46" fill="#5f5fd9"/>
<rect x="375.70" y="350.43" width="18.53" height="8.46" fill="#8e8ecd"/>
<rect x="394.23" y="350.43" width="18.53" height="8.46" fill="#8e8ecd"/>
<rect x="412.77" y="350.43" width="18.53" height="8.46" fill="#5f5fd9"/>
<rect x="431.30" y="350.43" width="18.50" height="8.46" fill="#8e8ecd"/>
<rect x="449.80" y="350.43" width="18.50" height="8.46" fill="#8e8ecd"/>
<rect x="468.30" y="350.43" width="18.50" height="8.46" fill="#5f5fd9"/>
<rect x="375.70" y="358.88" width="18.53" height="8.46" fill="#8e8ecd"/>
<rect x="394.23" y="358.88" width="18.53" height="8.46" fill="#8e8ecd"/>
<rect x="412.77" y="358.88" width="18.53" height="8.46" fill="#8e8ecd"/>
<rect x="431.30" y="358.88" width="18.50" height="8.46" fill="#8e8ecd"/>
<rect x="449.80" y="358.88" width="18.50" height="8.46" fill="#5f5fd9"/>
<rect x="468.30" y="358.88" width="18.50" height="8.46" fill="#5f5fd9"/>
<rect x="375.70" y="367.34" width="18.53" height="8.46" fill="#8e8ecd"/>
<rect x="394.23" y="367.34" width="18.53" height="8.46" fill="#8e8ecd"/>
<rect x="412.77" y="367.34" width="18.53" height="8.46" fill="#5f5fd9"/>
<rect x="431.30" y="367.34" width="18.50" height="8.46" fill="#5f5fd9"/>
<rect x="449.80" y="367.34" width="18.50" height="8.46" fill="#5f5fd9"/>
<rect x="468.30" y="367.34" width="18.50" height="8.46" fill="#5f5fd9"/>
<rect x="375.70" y="375.80" width="18.53" height="8.46" fill="#8e8ecd"/>
<rect x="394.23" y="375.80" width="18.53" height="8.46" fill="#8e8ecd"/>
<rect x="412.77" y="375.80" width="18.53" height="8.46" fill="#5f5fd9"/>
<rect x="431.30" y="375.80" width="18.50" height="8.46" fill="#8e8ecd"/>
<rect x="449.80" y="375.80" width="18.50" height="8.46" fill="#8e8ecd"/>
<rect x="468.30" y="375.80" width="18.50" height="8.46" fill="#8e8ecd"/>
<rect x="375.70" y="384.26" width="18.53" height="8.46" fill="#8e8ecd"/>
<rect x="394.23" y="384.26" width="18.53" height="8.46" fill="#c0c0c0"/>
<rect x="412.77" y="384.26" width="18.53" height="8.46" fill="#5f5fd9"/>
<rect x="431.30" y="384.26" width="18.50" height="8.46" fill="#8e8ecd"/>
<rect x="449.80" y="384.26" width="18.50" height="8.46" fill="#8e8ecd"/>
<rect x="468.30" y="384.26" width="18.50" height="8.46" fill="#5f5fd9"/>
<rect x="375.70" y="392.72" width="18.53" height="8.46" fill="#8e8ecd"/>
<rect x="394.23" y="392.72" width="18.53" height="8.46" fill="#c0c0c0"/>
<rect x="412.77" y="392.72" width="18.53" height="8.46" fill="#5f5fd9"/>
<rect x="431.30" y="401.17" width="18.50" height="8.46" fill="#3432e6"/>
<rect x="449.80" y="401.17" width="18.50" height="8.46" fill="#3432e6"/>
<rect x="468.30" y="401.17" width="18.50" height="8.46" fill="#1f3bf7"/>
<rect x="431.30" y="409.63" width="18.50" height="8.46" fill="#3432e6"/>
<rect x="449.80" y="409.63" width="18.50" height="8.46" fill="#3432e6"/>
<rect x="468.30" y="409.63" width="18.50" height="8.46" fill="#1f3bf7"/>
<rect x="431.30" y="418.09" width="18.50" height="8.46" fill="#3432e6"/>
<rect x="449.80" y="418.09" width="18.50" height="8.46" fill="#3432e6"/>
<rect x="468.30" y="418.09" width="18.50" height="8.46" fill="#3432e6"/>
<rect x="431.30" y="426.55" width="18.50" height="8.46" fill="#3432e6"/>
<rect x="449.80" y="426.55" width="18.50" height="8.46" fill="#3432e6"/>
<rect x="468.30" y="426.55" width="18.50" height="8.46" fill="#3432e6"/>
<rect x="431.30" y="435.01" width="18.50" height="8.46" fill="#3432e6"/>
<rect x="449.80" y="435.01" width="18.50" height="8.46" fill="#5f5fd9"/>
<rect x="468.30" y="435.01" width="18.50" height="8.46" fill="#3432e6"/>
<rect x="431.30" y="443.46" width="18.50" height="8.46" fill="#3432e6"/>
<rect x="449.80" y="443.46" width="18.50" height="8.46" fill="#3432e6"/>
<rect x="468.30" y="443.46" width="18.50" height="8.46" fill="#3432e6"/>
<rect x="431.30" y="451.92" width="18.50" height="8.46" fill="#5f5fd9"/>
<rect x="449.80" y="451.92" width="18.50" height="8.46" fill="#3432e6"/>
<rect x="468.30" y="451.92" width="18.50" height="8.46" fill="#3432e6"/>
<rect x="431.30" y="460.38" width="18.50" height="8.46" fill="#5f5fd9"/>
<rect x="449.80" y="460.38" width="18.50" height="8.46" fill="#3432e6"/>
<rect x="468.30" y="460.38" width="18.50" height="8.46" fill="#3432e6"/>
<rect x="431.30" y="468.84" width="18.50" height="8.46" fill="#5f5fd9"/>
<rect x="449.80" y="468.84" width="18.50" height="8.46" fill="#5f5fd9"/>
<rect x="468.30" y="468.84" width="18.50" height="8.46" fill="#3432e6"/>
<rect x="431.30" y="477.29" width="18.50" height="8.46" fill="#8e8ecd"/>
<rect x="449.80" y="477.29" width="18.50" height="8.46" fill="#8e8ecd"/>
<rect x="468.30" y="477.29" width="18.50" height="8.46" fill="#3432e6"/>
<rect x="431.30" y="485.75" width="18.50" height="8.46" fill="#5f5fd9"/>
<rect x="449.80" y="485.75" width="18.50" height="8.46" fill="#8e8ecd"/>
<rect x="468.30" y="485.75" width="18.50" height="8.46" fill="#5f5fd9"/>
<rect x="431.30" y="494.21" width="18.50" height="8.46" fill="#5f5fd9"/>
<rect x="449.80" y="494.21" width="18.50" height="8.46" fill="#8e8ecd"/>
<rect x="468.30" y="494.21" width="18.50" height="8.46" fill="#5f5fd9"/>
<rect x="431.30" y="502.67" width="18.50" height="8.46" fill="#8e8ecd"/>
<rect x="449.80" y="502.67" width="18.50" height="8.46" fill="#8e8ecd"/>
<rect x="468.30" y="502.67" width="18.50" height="8.46" fill="#5f5fd9"/>
<rect x="431.30" y="511.13" width="18.50" height="8.46" fill="#8e8ecd"/>
<rect x="449.80" y="511.13" width="18.50" height="8.46" fill="#5f5fd9"/>
<rect x="468.30" y="511.13" width="18.50" height="8.46" fill="#5f5fd9"/>
<rect x="431.30" y="519.58" width="18.50" height="8.46" fill="#8e8ecd"/>
<rect x="449.80" y="519.58" width="18.50" height="8.46" fill="#8e8ecd"/>
<rect x="468.30" y="519.58" width="18.50" height="8.46" fill="#8e8ecd"/>
<rect x="431.30" y="528.04" width="18.50" height="8.46" fill="#8e8ecd"/>
<rect x="449.80" y="528.04" width="18.50" height="8.46" fill="#c0c0c0"/>
<rect x="468.30" y="528.04" width="18.50" height="8.46" fill="#5f5fd9"/>
<line x1="431.50" y1="50.70" x2="431.50" y2="537.10" stroke="#111130" stroke-width="0.8"/>
<line x1="337.75" y1="57.20" x2="337.75" y2="535.10" stroke="#111" stroke-width="1.1"/>
<line x1="334.75" y1="60.20" x2="337.75" y2="60.20" stroke="#111" stroke-width="0.9"/>
<line x1="334.75" y1="68.63" x2="337.75" y2="68.63" stroke="#111" stroke-width="0.9"/>
<line x1="334.75" y1="77.07" x2="337.75" y2="77.07" stroke="#111" stroke-width="0.9"/>
<line x1="334.75" y1="85.50" x2="337.75" y2="85.50" stroke="#111" stroke-width="0.9"/>
<line x1="334.75" y1="93.94" x2="337.75" y2="93.94" stroke="#111" stroke-width="0.9"/>
<line x1="334.75" y1="102.37" x2="337.75" y2="102.37" stroke="#111" stroke-width="0.9"/>
<line x1="334.75" y1="110.80" x2="337.75" y2="110.80" stroke="#111" stroke-width="0.9"/>
<line x1="334.75" y1="119.24" x2="337.75" y2="119.24" stroke="#111" stroke-width="0.9"/>
<line x1="334.75" y1="127.67" x2="337.75" y2="127.67" stroke="#111" stroke-width="0.9"/>
<line x1="334.75" y1="136.11" x2="337.75" y2="136.11" stroke="#111" stroke-width="0.9"/>
<line x1="334.75" y1="144.54" x2="337.75" y2="144.54" stroke="#111" stroke-width="0.9"/>
<line x1="334.75" y1="152.97" x2="337.75" y2="152.97" stroke="#111" stroke-width="0.9"/>
<line x1="334.75" y1="161.41" x2="337.75" y2="161.41" stroke="#111" stroke-width="0.9"/>
<line x1="334.75" y1="169.84" x2="337.75" y2="169.84" stroke="#111" stroke-width="0.9"/>
<line x1="334.75" y1="178.28" x2="337.75" y2="178.28" stroke="#111" stroke-width="0.9"/>
<line x1="334.75" y1="186.71" x2="337.75" y2="186.71" stroke="#111" stroke-width="0.9"/>
<line x1="334.75" y1="195.14" x2="337.75" y2="195.14" stroke="#111" stroke-width="0.9"/>
<line x1="334.75" y1="203.58" x2="337.75" y2="203.58" stroke="#111" stroke-width="0.9"/>
<line x1="334.75" y1="212.01" x2="337.75" y2="212.01" stroke="#111" stroke-width="0.9"/>
<line x1="334.75" y1="220.44" x2="337.75" y2="220.44" stroke="#111" stroke-width="0.9"/>
<line x1="334.75" y1="228.88" x2="337.75" y2="228.88" stroke="#111" stroke-width="0.9"/>
<line x1="334.75" y1="237.31" x2="337.75" y2="237.31" stroke="#111" stroke-width="0.9"/>
<line x1="334.75" y1="245.75" x2="337.75" y2="245.75" stroke="#111" stroke-width="0.9"/>
<line x1="334.75" y1="254.18" x2="337.75" y2="254.18" stroke="#111" stroke-width="0.9"/>
<line x1="334.75" y1="262.61" x2="337.75" y2="262.61" stroke="#111" stroke-width="0.9"/>
<line x1="334.75" y1="271.05" x2="337.75" y2="271.05" stroke="#111" stroke-width="0.9"/>
<line x1="334.75" y1="279.48" x2="337.75" y2="279.48" stroke="#111" stroke-width="0.9"/>
<line x1="334.75" y1="287.92" x2="337.75" y2="287.92" stroke="#111" stroke-width="0.9"/>
<line x1="334.75" y1="296.35" x2="337.75" y2="296.35" stroke="#111" stroke-width="0.9"/>
<line x1="334.75" y1="304.78" x2="337.75" y2="304.78" stroke="#111" stroke-width="0.9"/>
<line x1="334.75" y1="313.22" x2="337.75" y2="313.22" stroke="#111" stroke-width="0.9"/>
<line x1="334.75" y1="321.65" x2="337.75" y2="321.65" stroke="#111" stroke-width="0.9"/>
<line x1="334.75" y1="330.09" x2="337.75" y2="330.09" stroke="#111" stroke-width="0.9"/>
<line x1="334.75" y1="338.52" x2="337.75" y2="338.52" stroke="#111" stroke-width="0.9"/>
<line x1="334.75" y1="346.95" x2="337.75" y2="346.95" stroke="#111" stroke-width="0.9"/>
<line x1="334.75" y1="355.39" x2="337.75" y2="355.39" stroke="#111" stroke-width="0.9"/>
<line x1="334.75" y1="363.82" x2="337.75" y2="363.82" stroke="#111" stroke-width="0.9"/>
<line x1="334.75" y1="372.26" x2="337.75" y2="372.26" stroke="#111" stroke-width="0.9"/>
<line x1="334.75" y1="380.69" x2="337.75" y2="380.69" stroke="#111" stroke-width="0.9"/>
<line x1="334.75" y1="389.12" x2="337.75" y2="389.12" stroke="#111" stroke-width="0.9"/>
<line x1="334.75" y1="397.56" x2="337.75" y2="397.56" stroke="#111" stroke-width="0.9"/>
<line x1="334.75" y1="405.99" x2="337.75" y2="405.99" stroke="#111" stroke-width="0.9"/>
<line x1="334.75" y1="414.43" x2="337.75" y2="414.43" stroke="#111" stroke-width="0.9"/>
<line x1="334.75" y1="422.86" x2="337.75" y2="422.86" stroke="#111" stroke-width="0.9"/>
<line x1="334.75" y1="431.29" x2="337.75" y2="431.29" stroke="#111" stroke-width="0.9"/>
<line x1="334.75" y1="439.73" x2="337.75" y2="439.73" stroke="#111" stroke-width="0.9"/>
<line x1="334.75" y1="448.16" x2="337.75" y2="448.16" stroke="#111" stroke-width="0.9"/>
<line x1="334.75" y1="456.59" x2="337.75" y2="456.59" stroke="#111" stroke-width="0.9"/>
<line x1="334.75" y1="465.03" x2="337.75" y2="465.03" stroke="#111" stroke-width="0.9"/>
<line x1="334.75" y1="473.46" x2="337.75" y2="473.46" stroke="#111" stroke-width="0.9"/>
<line x1="334.75" y1="481.90" x2="337.75" y2="481.90" stroke="#111" stroke-width="0.9"/>
<line x1="334.75" y1="490.33" x2="337.75" y2="490.33" stroke="#111" stroke-width="0.9"/>
<line x1="334.75" y1="498.76" x2="337.75" y2="498.76" stroke="#111" stroke-width="0.9"/>
<line x1="334.75" y1="507.20" x2="337.75" y2="507.20" stroke="#111" stroke-width="0.9"/>
<line x1="334.75" y1="515.63" x2="337.75" y2="515.63" stroke="#111" stroke-width="0.9"/>
<line x1="334.75" y1="524.07" x2="337.75" y2="524.07" stroke="#111" stroke-width="0.9"/>
<line x1="334.75" y1="532.50" x2="337.75" y2="532.50" stroke="#111" stroke-width="0.9"/>
<line x1="391.85" y1="30.20" x2="464.65" y2="30.20" stroke="#222" stroke-width="0.55"/>
<rect x="31.00" y="422.35" width="11.00" height="10.24" fill="#dc2d0c"/>
<rect x="31.00" y="432.09" width="11.00" height="10.24" fill="#d0323a"/>
<rect x="31.00" y="441.83" width="11.00" height="10.24" fill="#c5616a"/>
<rect x="31.00" y="451.57" width="11.00" height="10.24" fill="#c09298"/>
<rect x="31.00" y="461.31" width="11.00" height="10.24" fill="#bfbfbf"/>
<rect x="31.00" y="471.05" width="11.00" height="10.24" fill="#bfbfbf"/>
<rect x="31.00" y="480.79" width="11.00" height="10.24" fill="#8e8ecd"/>
<rect x="31.00" y="490.53" width="11.00" height="10.24" fill="#5f5fd9"/>
<rect x="31.00" y="500.27" width="11.00" height="10.24" fill="#3432e6"/>
<rect x="31.00" y="510.01" width="11.00" height="9.74" fill="#1f3bf7"/>
<line x1="28.60" y1="419.35" x2="28.60" y2="522.75" stroke="#111" stroke-width="1.1"/>
<line x1="25.60" y1="422.45" x2="28.60" y2="422.45" stroke="#111" stroke-width="1.0"/>
<line x1="25.60" y1="432.19" x2="28.60" y2="432.19" stroke="#111" stroke-width="1.0"/>
<line x1="25.60" y1="441.93" x2="28.60" y2="441.93" stroke="#111" stroke-width="1.0"/>
<line x1="25.60" y1="451.67" x2="28.60" y2="451.67" stroke="#111" stroke-width="1.0"/>
<line x1="25.60" y1="461.41" x2="28.60" y2="461.41" stroke="#111" stroke-width="1.0"/>
<line x1="25.60" y1="471.15" x2="28.60" y2="471.15" stroke="#111" stroke-width="1.0"/>
<line x1="25.60" y1="480.89" x2="28.60" y2="480.89" stroke="#111" stroke-width="1.0"/>
<line x1="25.60" y1="490.63" x2="28.60" y2="490.63" stroke="#111" stroke-width="1.0"/>
<line x1="25.60" y1="500.37" x2="28.60" y2="500.37" stroke="#111" stroke-width="1.0"/>
<line x1="25.60" y1="510.11" x2="28.60" y2="510.11" stroke="#111" stroke-width="1.0"/>
<line x1="25.60" y1="519.85" x2="28.60" y2="519.85" stroke="#111" stroke-width="1.0"/>
<rect x="0.45" y="0.45" width="519.1" height="543.1" fill="none" stroke="#000" stroke-width="0.9"/>
<g font-size="6.2" text-anchor="end" transform="scale(1 0.89)">
<text x="86.50" y="69.66">SECTM1</text>
<text x="123.40" y="69.66">&lt; 0.01</text>
<text x="270.80" y="69.66">&lt; 0.01</text>
<text x="86.50" y="79.09">DNAJC6</text>
<text x="123.40" y="79.09">&lt; 0.01</text>
<text x="270.80" y="79.09">&lt; 0.01</text>
<text x="86.50" y="88.51">C11orf74</text>
<text x="123.40" y="88.51">0.03</text>
<text x="86.50" y="97.93">NELL2</text>
<text x="123.40" y="97.93">&lt; 0.01</text>
<text x="270.80" y="97.93">&lt; 0.01</text>
<text x="86.50" y="107.36">PTPRK</text>
<text x="123.40" y="107.36">&lt; 0.01</text>
<text x="86.50" y="116.78">STX3</text>
<text x="123.40" y="116.78">&lt; 0.01</text>
<text x="270.80" y="116.78">&lt; 0.01</text>
<text x="86.50" y="126.20">TOP1MT</text>
<text x="123.40" y="126.20">&lt; 0.01</text>
<text x="270.80" y="126.20">0.05</text>
<text x="86.50" y="135.63">HYI</text>
<text x="123.40" y="135.63">&lt; 0.01</text>
<text x="270.80" y="135.63">&lt; 0.01</text>
<text x="86.50" y="145.05">ZNF629</text>
<text x="123.40" y="145.05">0.01</text>
<text x="86.50" y="154.48">APP</text>
<text x="123.40" y="154.48">0.01</text>
<text x="86.50" y="163.90">ACVR2A</text>
<text x="123.40" y="163.90">&lt; 0.01</text>
<text x="270.80" y="163.90">0.01</text>
<text x="86.50" y="173.32">PDE4D</text>
<text x="123.40" y="173.32">&lt; 0.01</text>
<text x="270.80" y="173.32">&lt; 0.01</text>
<text x="86.50" y="182.75">LGALS3BP</text>
<text x="123.40" y="182.75">&lt; 0.01</text>
<text x="270.80" y="182.75">&lt; 0.01</text>
<text x="86.50" y="192.17">OCRL</text>
<text x="123.40" y="192.17">0.04</text>
<text x="86.50" y="201.59">SSBP2</text>
<text x="123.40" y="201.59">&lt; 0.01</text>
<text x="270.80" y="201.59">0.01</text>
<text x="86.50" y="211.02">PIK3CB</text>
<text x="123.40" y="211.02">0.01</text>
<text x="270.80" y="211.02">&lt; 0.01</text>
<text x="86.50" y="220.44">CTDSP2</text>
<text x="123.40" y="220.44">&lt; 0.01</text>
<text x="270.80" y="220.44">&lt; 0.01</text>
<text x="86.50" y="229.86">TMEM71</text>
<text x="123.40" y="229.86">0.01</text>
<text x="270.80" y="229.86">0.03</text>
<text x="86.50" y="239.29">DUSP7</text>
<text x="123.40" y="239.29">&lt; 0.01</text>
<text x="270.80" y="239.29">&lt; 0.01</text>
<text x="86.50" y="248.71">RGL4</text>
<text x="123.40" y="248.71">0.01</text>
<text x="270.80" y="248.71">&lt; 0.01</text>
<text x="86.50" y="258.14">ASB13</text>
<text x="123.40" y="258.14">0.03</text>
<text x="270.80" y="258.14">0.03</text>
<text x="86.50" y="267.56">TSEN2</text>
<text x="123.40" y="267.56">0.04</text>
<text x="270.80" y="267.56">0.04</text>
<text x="86.50" y="276.98">OXNAD1</text>
<text x="123.40" y="276.98">0.01</text>
<text x="270.80" y="276.98">0.01</text>
<text x="86.50" y="286.41">VGLL4</text>
<text x="123.40" y="286.41">0.01</text>
<text x="270.80" y="286.41">0.01</text>
<text x="86.50" y="295.83">SNTB1</text>
<text x="123.40" y="295.83">0.01</text>
<text x="86.50" y="305.25">STX17</text>
<text x="123.40" y="305.25">0.03</text>
<text x="86.50" y="314.68">SLC20A1</text>
<text x="123.40" y="314.68">0.02</text>
<text x="270.80" y="314.68">&lt; 0.01</text>
<text x="86.50" y="324.10">BHLHE40</text>
<text x="123.40" y="324.10">0.03</text>
<text x="270.80" y="324.10">0.01</text>
<text x="86.50" y="333.52">ATP1A1</text>
<text x="123.40" y="333.52">&lt; 0.01</text>
<text x="270.80" y="333.52">&lt; 0.01</text>
<text x="86.50" y="342.95">PRMT5</text>
<text x="123.40" y="342.95">0.03</text>
<text x="270.80" y="342.95">0.03</text>
<text x="86.50" y="352.37">SPIN1</text>
<text x="123.40" y="352.37">0.02</text>
<text x="270.80" y="352.37">0.04</text>
<text x="86.50" y="361.80">BAG3</text>
<text x="123.40" y="361.80">0.05</text>
<text x="86.50" y="371.22">CAD</text>
<text x="123.40" y="371.22">0.04</text>
<text x="86.50" y="380.64">NOSIP</text>
<text x="123.40" y="380.64">0.04</text>
<text x="270.80" y="380.64">0.01</text>
<text x="86.50" y="390.07">PRKCA</text>
<text x="123.40" y="390.07">0.04</text>
<text x="270.80" y="390.07">0.01</text>
<text x="86.50" y="399.49">TPM2</text>
<text x="270.80" y="399.49">0.02</text>
<text x="86.50" y="408.91">EMR1</text>
<text x="270.80" y="408.91">0.01</text>
<text x="86.50" y="418.34">PANK1</text>
<text x="270.80" y="418.34">&lt; 0.01</text>
<text x="86.50" y="427.76">GBP4</text>
<text x="270.80" y="427.76">&lt; 0.01</text>
<text x="86.50" y="437.18">GIMAP5</text>
<text x="270.80" y="437.18">&lt; 0.01</text>
<text x="86.50" y="446.61">GIMAP8</text>
<text x="270.80" y="446.61">&lt; 0.01</text>
<text x="86.50" y="456.03">STXBP1</text>
<text x="270.80" y="456.03">&lt; 0.01</text>
<text x="86.50" y="465.46">PDIA5</text>
<text x="270.80" y="465.46">&lt; 0.01</text>
<text x="86.50" y="474.88">POU6F1</text>
<text x="270.80" y="474.88">0.04</text>
<text x="86.50" y="484.30">GOLGA7B</text>
<text x="270.80" y="484.30">&lt; 0.01</text>
<text x="86.50" y="493.73">IFITM3</text>
<text x="270.80" y="493.73">0.01</text>
<text x="86.50" y="503.15">CDC14A</text>
<text x="270.80" y="503.15">&lt; 0.01</text>
<text x="86.50" y="512.57">GTPBP8</text>
<text x="270.80" y="512.57">&lt; 0.01</text>
<text x="86.50" y="522.00">FASTKD1</text>
<text x="270.80" y="522.00">0.02</text>
<text x="86.50" y="531.42">FAM65B</text>
<text x="270.80" y="531.42">&lt; 0.01</text>
<text x="86.50" y="540.84">LRRN3</text>
<text x="270.80" y="540.84">&lt; 0.01</text>
<text x="86.50" y="550.27">IFITM2</text>
<text x="270.80" y="550.27">&lt; 0.01</text>
<text x="86.50" y="559.69">TFPT</text>
<text x="270.80" y="559.69">&lt; 0.01</text>
<text x="86.50" y="569.12">MSH6</text>
<text x="270.80" y="569.12">0.05</text>
<text x="86.50" y="578.54">EIF4G1</text>
<text x="270.80" y="578.54">0.02</text>
<text x="328.90" y="69.78">SECTM1</text>
<text x="365.80" y="69.78">&lt; 0.01</text>
<text x="328.90" y="79.25">AOAH</text>
<text x="365.80" y="79.25">&lt; 0.01</text>
<text x="513.10" y="79.53">0.04</text>
<text x="328.90" y="88.73">NELL2</text>
<text x="365.80" y="88.73">&lt; 0.01</text>
<text x="513.10" y="89.01">&lt; 0.01</text>
<text x="328.90" y="98.20">ZNF629</text>
<text x="365.80" y="98.20">&lt; 0.01</text>
<text x="513.10" y="98.49">&lt; 0.01</text>
<text x="328.90" y="107.68">FRY</text>
<text x="365.80" y="107.68">0.04</text>
<text x="328.90" y="117.16">DNAJC6</text>
<text x="365.80" y="117.16">&lt; 0.01</text>
<text x="513.10" y="117.44">&lt; 0.01</text>
<text x="328.90" y="126.63">AK5</text>
<text x="365.80" y="126.63">&lt; 0.01</text>
<text x="328.90" y="136.11">ACVR2A</text>
<text x="365.80" y="136.11">&lt; 0.01</text>
<text x="328.90" y="145.59">APP</text>
<text x="365.80" y="145.59">0.01</text>
<text x="328.90" y="155.06">PDE4D</text>
<text x="365.80" y="155.06">&lt; 0.01</text>
<text x="513.10" y="155.34">&lt; 0.01</text>
<text x="328.90" y="164.54">HYI</text>
<text x="365.80" y="164.54">0.01</text>
<text x="513.10" y="164.82">&lt; 0.01</text>
<text x="328.90" y="174.01">SSBP2</text>
<text x="365.80" y="174.01">&lt; 0.01</text>
<text x="513.10" y="174.30">&lt; 0.01</text>
<text x="328.90" y="183.49">TMEM71</text>
<text x="365.80" y="183.49">&lt; 0.01</text>
<text x="513.10" y="183.77">&lt; 0.01</text>
<text x="328.90" y="192.97">STX3</text>
<text x="365.80" y="192.97">&lt; 0.01</text>
<text x="513.10" y="193.25">0.02</text>
<text x="328.90" y="202.44">FZD6</text>
<text x="365.80" y="202.44">&lt; 0.01</text>
<text x="328.90" y="211.92">LGALS3BP</text>
<text x="365.80" y="211.92">&lt; 0.01</text>
<text x="513.10" y="212.20">&lt; 0.01</text>
<text x="328.90" y="221.40">CTDSP2</text>
<text x="365.80" y="221.40">&lt; 0.01</text>
<text x="513.10" y="221.68">&lt; 0.01</text>
<text x="328.90" y="230.87">OXNAD1</text>
<text x="365.80" y="230.87">&lt; 0.01</text>
<text x="513.10" y="231.15">&lt; 0.01</text>
<text x="328.90" y="240.35">GBP4</text>
<text x="365.80" y="240.35">&lt; 0.01</text>
<text x="513.10" y="240.63">&lt; 0.01</text>
<text x="328.90" y="249.83">PIK3CB</text>
<text x="365.80" y="249.83">0.01</text>
<text x="513.10" y="250.11">&lt; 0.01</text>
<text x="328.90" y="259.30">PDIA5</text>
<text x="365.80" y="259.30">0.03</text>
<text x="513.10" y="259.58">0.01</text>
<text x="328.90" y="268.78">SNTB1</text>
<text x="365.80" y="268.78">&lt; 0.01</text>
<text x="328.90" y="278.25">TOP1MT</text>
<text x="365.80" y="278.25">0.04</text>
<text x="328.90" y="287.73">AKR1B1</text>
<text x="365.80" y="287.73">0.01</text>
<text x="328.90" y="297.21">DUSP7</text>
<text x="365.80" y="297.21">0.01</text>
<text x="513.10" y="297.49">0.03</text>
<text x="328.90" y="306.68">LRRN3</text>
<text x="365.80" y="306.68">0.01</text>
<text x="513.10" y="306.96">&lt; 0.01</text>
<text x="328.90" y="316.16">VGLL4</text>
<text x="365.80" y="316.16">0.01</text>
<text x="513.10" y="316.44">&lt; 0.01</text>
<text x="328.90" y="325.64">SLC20A1</text>
<text x="365.80" y="325.64">0.01</text>
<text x="513.10" y="325.92">&lt; 0.01</text>
<text x="328.90" y="335.11">CDC14A</text>
<text x="365.80" y="335.11">0.01</text>
<text x="513.10" y="335.39">&lt; 0.01</text>
<text x="328.90" y="344.59">BHLHE40</text>
<text x="365.80" y="344.59">0.02</text>
<text x="513.10" y="344.87">&lt; 0.01</text>
<text x="328.90" y="354.07">IFITM2</text>
<text x="365.80" y="354.07">0.01</text>
<text x="513.10" y="354.35">&lt; 0.01</text>
<text x="328.90" y="363.54">STX17</text>
<text x="365.80" y="363.54">0.04</text>
<text x="328.90" y="373.02">TPCN1</text>
<text x="365.80" y="373.02">0.02</text>
<text x="328.90" y="382.49">SPIN1</text>
<text x="365.80" y="382.49">0.01</text>
<text x="513.10" y="382.77">&lt; 0.01</text>
<text x="328.90" y="391.97">NOSIP</text>
<text x="365.80" y="391.97">0.01</text>
<text x="513.10" y="392.25">&lt; 0.01</text>
<text x="328.90" y="401.45">ATP1A1</text>
<text x="365.80" y="401.45">0.01</text>
<text x="513.10" y="401.73">&lt; 0.01</text>
<text x="328.90" y="410.92">PRKCA</text>
<text x="365.80" y="410.92">0.02</text>
<text x="513.10" y="411.20">&lt; 0.01</text>
<text x="328.90" y="420.40">FAM65B</text>
<text x="365.80" y="420.40">0.04</text>
<text x="513.10" y="420.68">&lt; 0.01</text>
<text x="328.90" y="429.88">STIM2</text>
<text x="365.80" y="429.88">0.01</text>
<text x="513.10" y="430.16">0.02</text>
<text x="328.90" y="439.35">SGSM3</text>
<text x="365.80" y="439.35">0.04</text>
<text x="513.10" y="439.63">0.02</text>
<text x="328.90" y="448.83">C19orf60</text>
<text x="365.80" y="448.83">0.05</text>
<text x="328.90" y="458.30">GIMAP5</text>
<text x="513.10" y="458.59">&lt; 0.01</text>
<text x="328.90" y="467.78">GIMAP8</text>
<text x="513.10" y="468.06">&lt; 0.01</text>
<text x="328.90" y="477.26">STXBP1</text>
<text x="513.10" y="477.54">&lt; 0.01</text>
<text x="328.90" y="486.73">S100B</text>
<text x="513.10" y="487.01">0.01</text>
<text x="328.90" y="496.21">GOLGA7B</text>
<text x="513.10" y="496.49">&lt; 0.01</text>
<text x="328.90" y="505.69">IFITM3</text>
<text x="513.10" y="505.97">&lt; 0.01</text>
<text x="328.90" y="515.16">PANK1</text>
<text x="513.10" y="515.44">0.05</text>
<text x="328.90" y="524.64">RGL4</text>
<text x="513.10" y="524.92">&lt; 0.01</text>
<text x="328.90" y="534.12">ACSL6</text>
<text x="513.10" y="534.40">0.01</text>
<text x="328.90" y="543.59">TMEM229B</text>
<text x="513.10" y="543.87">0.04</text>
<text x="328.90" y="553.07">GTPBP8</text>
<text x="513.10" y="553.35">0.03</text>
<text x="328.90" y="562.54">SNX18</text>
<text x="513.10" y="562.83">0.01</text>
<text x="328.90" y="572.02">TFPT</text>
<text x="513.10" y="572.30">0.01</text>
<text x="328.90" y="581.50">SPTBN1</text>
<text x="513.10" y="581.78">0.01</text>
<text x="328.90" y="590.97">TNFAIP8</text>
<text x="513.10" y="591.25">0.03</text>
<text x="328.90" y="600.45">UBTF</text>
<text x="513.10" y="600.73">0.04</text>
<text x="22.80" y="476.80">4</text>
<text x="22.80" y="487.74">1</text>
<text x="22.80" y="498.69">0.5</text>
<text x="22.80" y="509.63">0.25</text>
<text x="22.80" y="520.57">0.1</text>
<text x="22.80" y="531.52">0</text>
<text x="22.80" y="542.46">−0.1</text>
<text x="22.80" y="553.40">−0.25</text>
<text x="22.80" y="564.35">−0.5</text>
<text x="22.80" y="575.29">−1</text>
<text x="22.80" y="586.24">−4</text>
</g>
<g font-size="6.3" text-anchor="end">
<text x="86.50" y="53.10" class="b">GENE</text>
<text x="123.90" y="53.10" class="b">pvalue</text>
<text x="271.30" y="53.10" class="b">pvalue</text>
<text x="328.90" y="53.10" class="b">GENE</text>
<text x="366.30" y="53.10" class="b">pvalue</text>
<text x="513.60" y="53.10" class="b">pvalue</text>
</g>
<g font-size="8.3" text-anchor="middle">
<text x="185.75" y="29.30" class="b">TREG DOWN: CD4</text>
<text x="428.25" y="29.30" class="b">TREG DOWN: CD8</text>
</g>
<g font-size="8" text-anchor="middle">
<text x="158.90" y="40.80" class="b">FL</text>
<text x="216.60" y="40.80" class="b">Δ3B</text>
<text x="398.70" y="40.80" class="b">FL</text>
<text x="457.50" y="40.80" class="b">Δ3B</text>
</g>
<g font-size="6.0" text-anchor="middle" transform="scale(1 0.93)">
<text x="139.25" y="54.62">FL1</text>
<text x="156.75" y="54.62">FL2</text>
<text x="176.90" y="54.62">FL3</text>
<text x="198.10" y="54.62"><tspan class="d">Δ</tspan>3B1</text>
<text x="216.90" y="54.62"><tspan class="d">Δ</tspan>3B2</text>
<text x="235.25" y="54.62"><tspan class="d">Δ</tspan>3B3</text>
<text x="383.80" y="54.62">FL1</text>
<text x="401.60" y="54.62">FL2</text>
<text x="421.00" y="54.62">FL3</text>
<text x="443.25" y="54.62"><tspan class="d">Δ</tspan>3B1</text>
<text x="461.60" y="54.62"><tspan class="d">Δ</tspan>3B2</text>
<text x="480.00" y="54.62"><tspan class="d">Δ</tspan>3B3</text>
</g>
<g font-size="11.7" text-anchor="start">
<text x="6.70" y="16.50" class="b">B</text>
</g>

</svg>
</div>
</div>
</body></html>
